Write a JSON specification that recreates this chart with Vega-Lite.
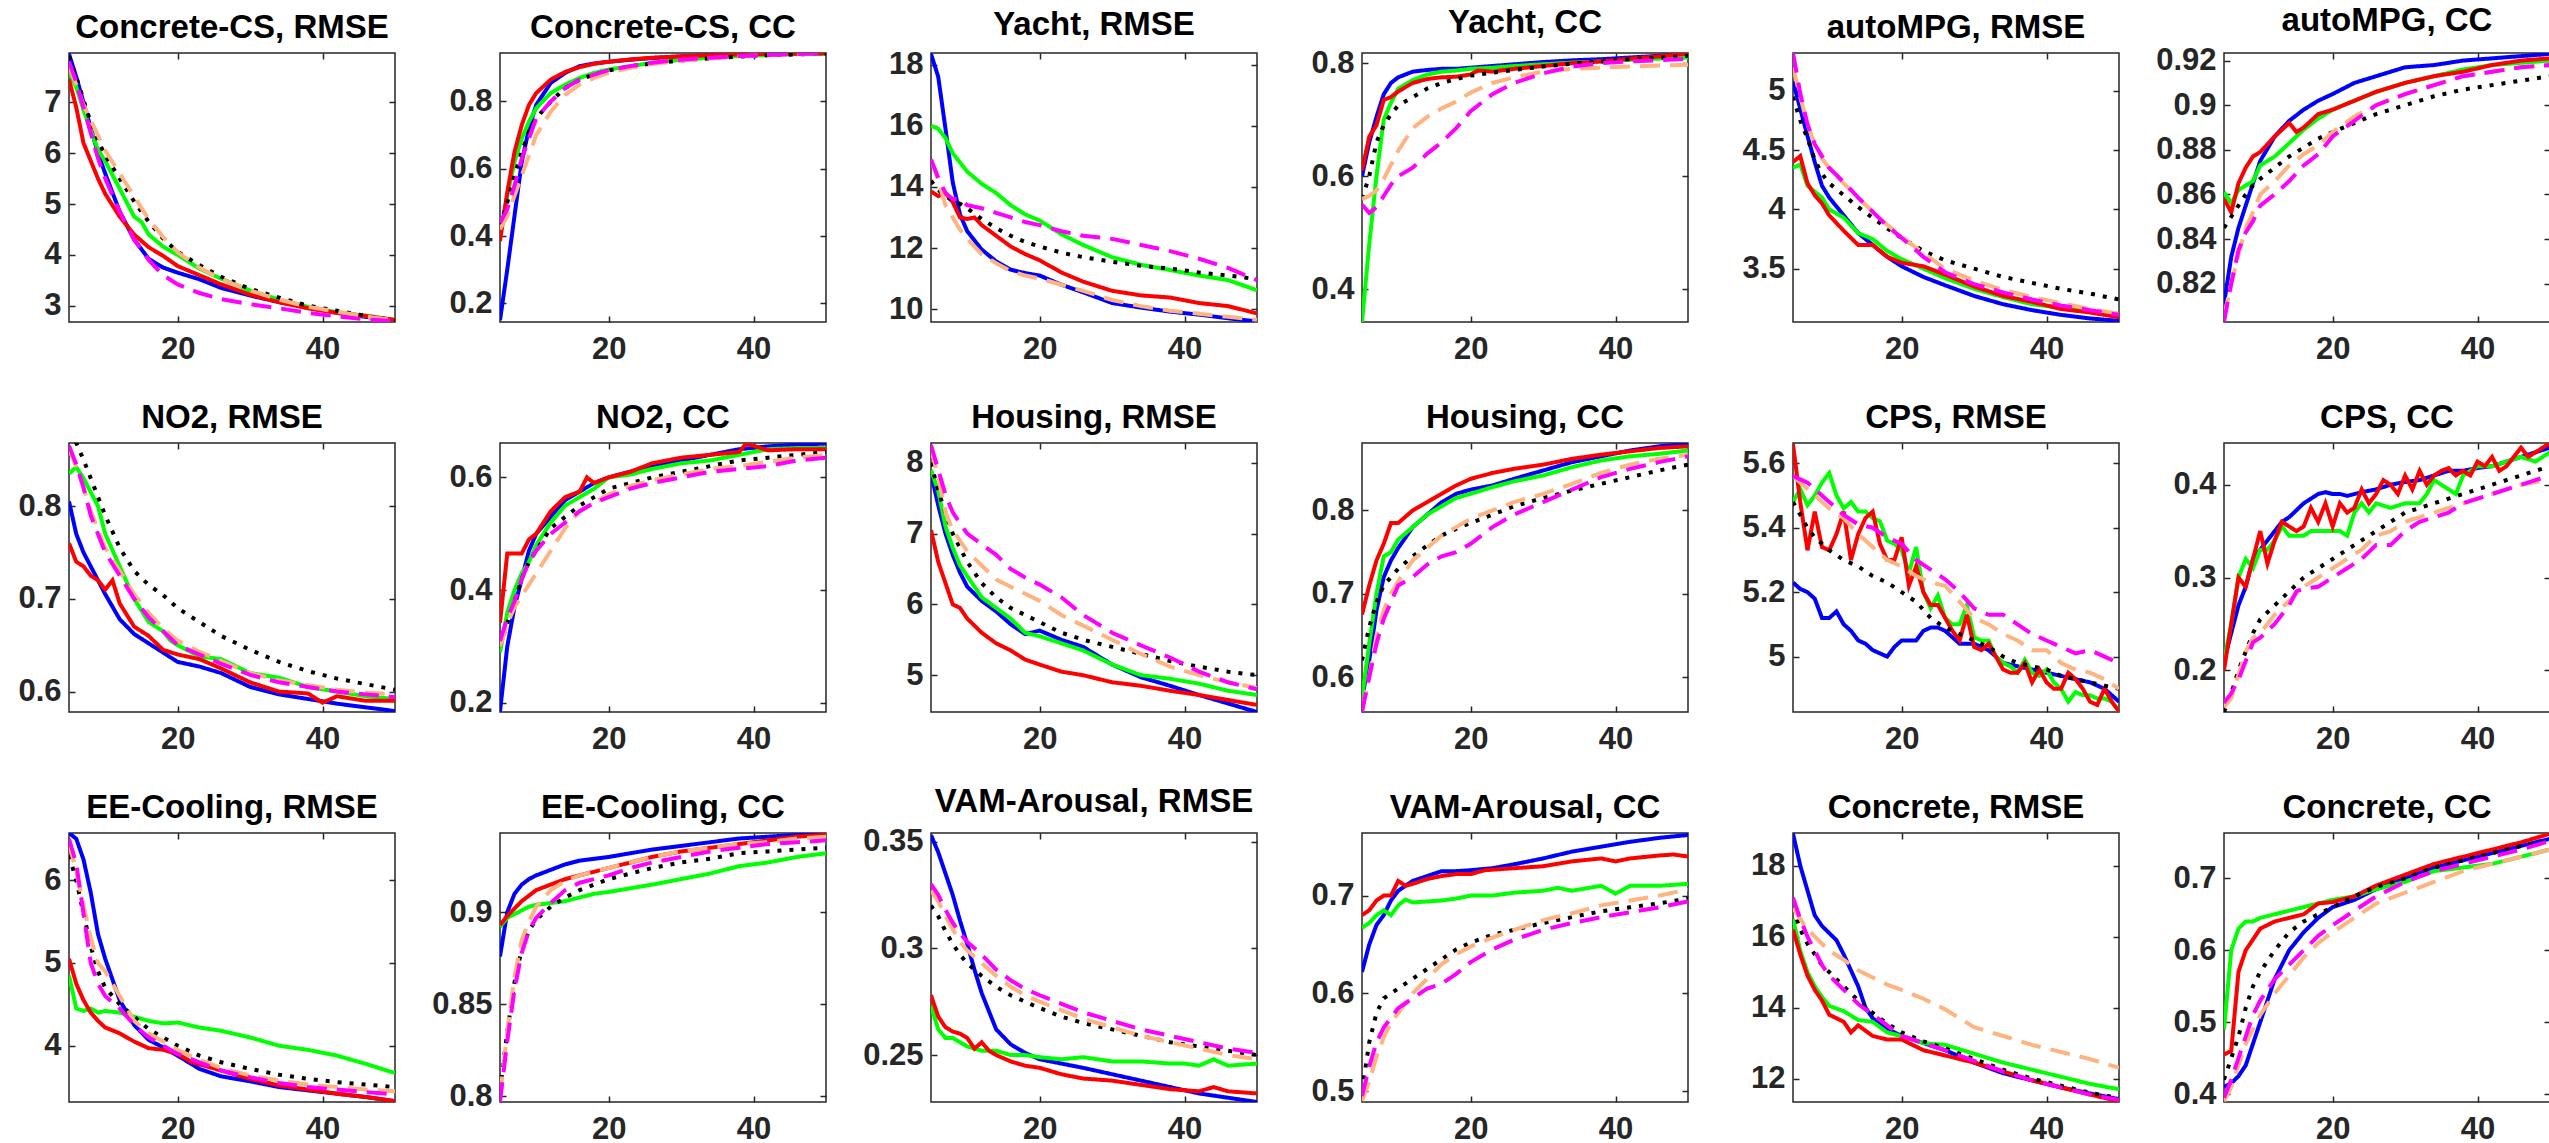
{
"$schema": "https://vega.github.io/schema/vega-lite/v6.json",
"background": "white",
"padding": {"left": 17, "top": 3, "right": 0, "bottom": 0},
"config": {
  "font": "Liberation Sans",
  "view": {"stroke": "#262626", "strokeWidth": 1.5, "continuousWidth": 326, "continuousHeight": 269},
  "axis": {"grid": false, "domain": false, "tickColor": "#262626", "tickSize": -6, "tickWidth": 1.5, "labelFont": "Liberation Sans", "labelFontSize": 31, "labelFontWeight": "bold", "labelColor": "#262626"},
  "axisLeft": {"labelPadding": 14},
  "axisBottom": {"labelPadding": 18},
  "axisRight": {"labels": false, "minExtent": 0, "maxExtent": 0},
  "axisTop": {"labels": false, "minExtent": 0, "maxExtent": 0},
  "title": {"font": "Liberation Sans", "fontSize": 33, "fontWeight": "bold", "color": "#000000", "offset": 7, "frame": "group", "anchor": "middle", "baseline": "alphabetic"},
  "line": {"strokeWidth": 4},
  "point": {"size": 0}
},
"datasets": {
"d1": [
{"s":"b","x":5,"y":7.95},{"s":"b","x":6,"y":7.5},{"s":"b","x":7,"y":7.0},{"s":"b","x":8,"y":6.5},{"s":"b","x":9,"y":6.0},{"s":"b","x":10,"y":5.6},{"s":"b","x":12,"y":4.85},{"s":"b","x":14,"y":4.3},{"s":"b","x":16,"y":3.92},{"s":"b","x":18,"y":3.75},{"s":"b","x":20,"y":3.65},{"s":"b","x":23,"y":3.52},{"s":"b","x":26,"y":3.35},{"s":"b","x":30,"y":3.2},{"s":"b","x":34,"y":3.07},{"s":"b","x":38,"y":2.96},{"s":"b","x":42,"y":2.86},{"s":"b","x":46,"y":2.78},{"s":"b","x":50,"y":2.71},
{"s":"g","x":5,"y":7.6},{"s":"g","x":6,"y":7.3},{"s":"g","x":7,"y":6.85},{"s":"g","x":8,"y":6.45},{"s":"g","x":9,"y":6.07},{"s":"g","x":10,"y":5.84},{"s":"g","x":12,"y":5.3},{"s":"g","x":14,"y":4.75},{"s":"g","x":15,"y":4.65},{"s":"g","x":16,"y":4.4},{"s":"g","x":18,"y":4.16},{"s":"g","x":20,"y":4.0},{"s":"g","x":23,"y":3.73},{"s":"g","x":26,"y":3.53},{"s":"g","x":30,"y":3.3},{"s":"g","x":34,"y":3.12},{"s":"g","x":38,"y":2.98},{"s":"g","x":42,"y":2.87},{"s":"g","x":46,"y":2.8},{"s":"g","x":50,"y":2.72},
{"s":"r","x":5,"y":7.45},{"s":"r","x":6,"y":6.9},{"s":"r","x":7,"y":6.2},{"s":"r","x":8,"y":5.85},{"s":"r","x":9,"y":5.5},{"s":"r","x":10,"y":5.2},{"s":"r","x":12,"y":4.75},{"s":"r","x":14,"y":4.4},{"s":"r","x":16,"y":4.15},{"s":"r","x":18,"y":3.98},{"s":"r","x":20,"y":3.78},{"s":"r","x":23,"y":3.6},{"s":"r","x":26,"y":3.42},{"s":"r","x":30,"y":3.22},{"s":"r","x":34,"y":3.07},{"s":"r","x":38,"y":2.95},{"s":"r","x":42,"y":2.86},{"s":"r","x":46,"y":2.8},{"s":"r","x":50,"y":2.72},
{"s":"k","x":5,"y":7.9},{"s":"k","x":6,"y":7.5},{"s":"k","x":7,"y":7.05},{"s":"k","x":8,"y":6.6},{"s":"k","x":9,"y":6.25},{"s":"k","x":10,"y":5.95},{"s":"k","x":12,"y":5.5},{"s":"k","x":14,"y":5.05},{"s":"k","x":16,"y":4.65},{"s":"k","x":18,"y":4.32},{"s":"k","x":20,"y":4.06},{"s":"k","x":23,"y":3.8},{"s":"k","x":26,"y":3.57},{"s":"k","x":30,"y":3.33},{"s":"k","x":34,"y":3.16},{"s":"k","x":38,"y":3.0},{"s":"k","x":42,"y":2.9},{"s":"k","x":46,"y":2.8},{"s":"k","x":50,"y":2.71},
{"s":"o","x":5,"y":7.7},{"s":"o","x":6,"y":7.35},{"s":"o","x":7,"y":6.95},{"s":"o","x":8,"y":6.65},{"s":"o","x":9,"y":6.35},{"s":"o","x":10,"y":6.05},{"s":"o","x":12,"y":5.6},{"s":"o","x":14,"y":5.15},{"s":"o","x":16,"y":4.7},{"s":"o","x":18,"y":4.35},{"s":"o","x":20,"y":4.05},{"s":"o","x":23,"y":3.75},{"s":"o","x":26,"y":3.52},{"s":"o","x":30,"y":3.3},{"s":"o","x":34,"y":3.12},{"s":"o","x":38,"y":2.98},{"s":"o","x":42,"y":2.88},{"s":"o","x":46,"y":2.79},{"s":"o","x":50,"y":2.71},
{"s":"m","x":5,"y":7.8},{"s":"m","x":6,"y":7.4},{"s":"m","x":7,"y":6.9},{"s":"m","x":8,"y":6.4},{"s":"m","x":9,"y":5.9},{"s":"m","x":10,"y":5.5},{"s":"m","x":12,"y":4.85},{"s":"m","x":14,"y":4.3},{"s":"m","x":16,"y":3.9},{"s":"m","x":18,"y":3.6},{"s":"m","x":20,"y":3.42},{"s":"m","x":23,"y":3.25},{"s":"m","x":26,"y":3.13},{"s":"m","x":30,"y":3.03},{"s":"m","x":34,"y":2.95},{"s":"m","x":38,"y":2.86},{"s":"m","x":42,"y":2.79},{"s":"m","x":46,"y":2.73},{"s":"m","x":50,"y":2.7}
],
"d2": [
{"s":"b","x":5,"y":0.15},{"s":"b","x":6,"y":0.3},{"s":"b","x":7,"y":0.46},{"s":"b","x":8,"y":0.62},{"s":"b","x":9,"y":0.72},{"s":"b","x":10,"y":0.79},{"s":"b","x":12,"y":0.855},{"s":"b","x":14,"y":0.885},{"s":"b","x":16,"y":0.905},{"s":"b","x":18,"y":0.913},{"s":"b","x":20,"y":0.918},{"s":"b","x":23,"y":0.924},{"s":"b","x":26,"y":0.929},{"s":"b","x":30,"y":0.934},{"s":"b","x":34,"y":0.937},{"s":"b","x":38,"y":0.94},{"s":"b","x":42,"y":0.941},{"s":"b","x":46,"y":0.942},{"s":"b","x":50,"y":0.943},
{"s":"g","x":5,"y":0.4},{"s":"g","x":6,"y":0.52},{"s":"g","x":7,"y":0.62},{"s":"g","x":8,"y":0.69},{"s":"g","x":9,"y":0.74},{"s":"g","x":10,"y":0.78},{"s":"g","x":12,"y":0.825},{"s":"g","x":14,"y":0.85},{"s":"g","x":16,"y":0.87},{"s":"g","x":18,"y":0.885},{"s":"g","x":20,"y":0.895},{"s":"g","x":23,"y":0.905},{"s":"g","x":26,"y":0.915},{"s":"g","x":30,"y":0.924},{"s":"g","x":34,"y":0.93},{"s":"g","x":38,"y":0.935},{"s":"g","x":42,"y":0.938},{"s":"g","x":46,"y":0.941},{"s":"g","x":50,"y":0.943},
{"s":"r","x":5,"y":0.385},{"s":"r","x":6,"y":0.53},{"s":"r","x":7,"y":0.65},{"s":"r","x":8,"y":0.73},{"s":"r","x":9,"y":0.79},{"s":"r","x":10,"y":0.825},{"s":"r","x":12,"y":0.865},{"s":"r","x":14,"y":0.888},{"s":"r","x":16,"y":0.902},{"s":"r","x":18,"y":0.912},{"s":"r","x":20,"y":0.918},{"s":"r","x":23,"y":0.925},{"s":"r","x":26,"y":0.93},{"s":"r","x":30,"y":0.934},{"s":"r","x":34,"y":0.937},{"s":"r","x":38,"y":0.94},{"s":"r","x":42,"y":0.941},{"s":"r","x":46,"y":0.942},{"s":"r","x":50,"y":0.943},
{"s":"k","x":5,"y":0.43},{"s":"k","x":6,"y":0.5},{"s":"k","x":7,"y":0.58},{"s":"k","x":8,"y":0.65},{"s":"k","x":9,"y":0.71},{"s":"k","x":10,"y":0.75},{"s":"k","x":12,"y":0.8},{"s":"k","x":14,"y":0.84},{"s":"k","x":16,"y":0.865},{"s":"k","x":18,"y":0.88},{"s":"k","x":20,"y":0.892},{"s":"k","x":23,"y":0.904},{"s":"k","x":26,"y":0.913},{"s":"k","x":30,"y":0.922},{"s":"k","x":34,"y":0.928},{"s":"k","x":38,"y":0.933},{"s":"k","x":42,"y":0.937},{"s":"k","x":46,"y":0.94},{"s":"k","x":50,"y":0.942},
{"s":"o","x":5,"y":0.42},{"s":"o","x":6,"y":0.46},{"s":"o","x":7,"y":0.52},{"s":"o","x":8,"y":0.58},{"s":"o","x":9,"y":0.64},{"s":"o","x":10,"y":0.7},{"s":"o","x":12,"y":0.77},{"s":"o","x":14,"y":0.82},{"s":"o","x":16,"y":0.85},{"s":"o","x":18,"y":0.87},{"s":"o","x":20,"y":0.885},{"s":"o","x":23,"y":0.9},{"s":"o","x":26,"y":0.911},{"s":"o","x":30,"y":0.921},{"s":"o","x":34,"y":0.928},{"s":"o","x":38,"y":0.934},{"s":"o","x":42,"y":0.938},{"s":"o","x":46,"y":0.941},{"s":"o","x":50,"y":0.943},
{"s":"m","x":5,"y":0.44},{"s":"m","x":6,"y":0.48},{"s":"m","x":7,"y":0.55},{"s":"m","x":8,"y":0.63},{"s":"m","x":9,"y":0.69},{"s":"m","x":10,"y":0.75},{"s":"m","x":12,"y":0.8},{"s":"m","x":14,"y":0.84},{"s":"m","x":16,"y":0.865},{"s":"m","x":18,"y":0.88},{"s":"m","x":20,"y":0.893},{"s":"m","x":23,"y":0.905},{"s":"m","x":26,"y":0.915},{"s":"m","x":30,"y":0.924},{"s":"m","x":34,"y":0.93},{"s":"m","x":38,"y":0.935},{"s":"m","x":42,"y":0.938},{"s":"m","x":46,"y":0.941},{"s":"m","x":50,"y":0.943}
],
"d3": [
{"s":"b","x":5,"y":18.35},{"s":"b","x":6,"y":17.6},{"s":"b","x":7,"y":15.9},{"s":"b","x":8,"y":14.15},{"s":"b","x":9,"y":13.1},{"s":"b","x":10,"y":12.55},{"s":"b","x":12,"y":11.95},{"s":"b","x":14,"y":11.56},{"s":"b","x":16,"y":11.29},{"s":"b","x":18,"y":11.18},{"s":"b","x":20,"y":11.1},{"s":"b","x":23,"y":10.8},{"s":"b","x":26,"y":10.55},{"s":"b","x":30,"y":10.2},{"s":"b","x":34,"y":10.05},{"s":"b","x":38,"y":9.92},{"s":"b","x":42,"y":9.82},{"s":"b","x":46,"y":9.7},{"s":"b","x":50,"y":9.6},
{"s":"g","x":5,"y":16.0},{"s":"g","x":6,"y":15.9},{"s":"g","x":7,"y":15.6},{"s":"g","x":8,"y":15.1},{"s":"g","x":9,"y":14.8},{"s":"g","x":10,"y":14.5},{"s":"g","x":12,"y":14.1},{"s":"g","x":14,"y":13.8},{"s":"g","x":16,"y":13.4},{"s":"g","x":18,"y":13.1},{"s":"g","x":20,"y":12.9},{"s":"g","x":23,"y":12.45},{"s":"g","x":26,"y":12.1},{"s":"g","x":30,"y":11.7},{"s":"g","x":34,"y":11.45},{"s":"g","x":38,"y":11.28},{"s":"g","x":42,"y":11.1},{"s":"g","x":46,"y":10.95},{"s":"g","x":50,"y":10.62},
{"s":"r","x":5,"y":13.85},{"s":"r","x":6,"y":13.7},{"s":"r","x":7,"y":13.8},{"s":"r","x":8,"y":13.5},{"s":"r","x":9,"y":13.0},{"s":"r","x":10,"y":12.95},{"s":"r","x":11,"y":13.0},{"s":"r","x":12,"y":12.75},{"s":"r","x":14,"y":12.4},{"s":"r","x":16,"y":12.05},{"s":"r","x":18,"y":11.8},{"s":"r","x":20,"y":11.6},{"s":"r","x":23,"y":11.2},{"s":"r","x":26,"y":10.9},{"s":"r","x":30,"y":10.6},{"s":"r","x":34,"y":10.45},{"s":"r","x":38,"y":10.38},{"s":"r","x":42,"y":10.2},{"s":"r","x":46,"y":10.1},{"s":"r","x":50,"y":9.86},
{"s":"k","x":5,"y":14.2},{"s":"k","x":6,"y":13.9},{"s":"k","x":7,"y":13.7},{"s":"k","x":8,"y":13.55},{"s":"k","x":9,"y":13.45},{"s":"k","x":10,"y":13.3},{"s":"k","x":12,"y":12.95},{"s":"k","x":14,"y":12.65},{"s":"k","x":16,"y":12.4},{"s":"k","x":18,"y":12.2},{"s":"k","x":20,"y":12.05},{"s":"k","x":23,"y":11.85},{"s":"k","x":26,"y":11.7},{"s":"k","x":30,"y":11.55},{"s":"k","x":34,"y":11.42},{"s":"k","x":38,"y":11.33},{"s":"k","x":42,"y":11.2},{"s":"k","x":46,"y":11.1},{"s":"k","x":50,"y":10.98},
{"s":"o","x":5,"y":14.9},{"s":"o","x":6,"y":14.2},{"s":"o","x":7,"y":13.4},{"s":"o","x":8,"y":13.0},{"s":"o","x":9,"y":12.6},{"s":"o","x":10,"y":12.3},{"s":"o","x":12,"y":11.8},{"s":"o","x":14,"y":11.5},{"s":"o","x":16,"y":11.25},{"s":"o","x":18,"y":11.1},{"s":"o","x":20,"y":11.0},{"s":"o","x":23,"y":10.8},{"s":"o","x":26,"y":10.6},{"s":"o","x":30,"y":10.3},{"s":"o","x":34,"y":10.1},{"s":"o","x":38,"y":9.95},{"s":"o","x":42,"y":9.85},{"s":"o","x":46,"y":9.75},{"s":"o","x":50,"y":9.65},
{"s":"m","x":5,"y":14.9},{"s":"m","x":6,"y":14.3},{"s":"m","x":7,"y":13.8},{"s":"m","x":8,"y":13.6},{"s":"m","x":9,"y":13.6},{"s":"m","x":10,"y":13.4},{"s":"m","x":12,"y":13.3},{"s":"m","x":14,"y":13.15},{"s":"m","x":16,"y":13.0},{"s":"m","x":18,"y":12.85},{"s":"m","x":20,"y":12.75},{"s":"m","x":23,"y":12.55},{"s":"m","x":26,"y":12.4},{"s":"m","x":30,"y":12.3},{"s":"m","x":34,"y":12.1},{"s":"m","x":38,"y":11.9},{"s":"m","x":42,"y":11.65},{"s":"m","x":46,"y":11.35},{"s":"m","x":50,"y":10.95}
],
"d4": [
{"s":"b","x":5,"y":0.6},{"s":"b","x":6,"y":0.66},{"s":"b","x":7,"y":0.705},{"s":"b","x":8,"y":0.745},{"s":"b","x":9,"y":0.765},{"s":"b","x":10,"y":0.775},{"s":"b","x":12,"y":0.785},{"s":"b","x":14,"y":0.788},{"s":"b","x":16,"y":0.79},{"s":"b","x":18,"y":0.79},{"s":"b","x":20,"y":0.792},{"s":"b","x":23,"y":0.795},{"s":"b","x":26,"y":0.798},{"s":"b","x":30,"y":0.802},{"s":"b","x":34,"y":0.805},{"s":"b","x":38,"y":0.807},{"s":"b","x":42,"y":0.81},{"s":"b","x":46,"y":0.813},{"s":"b","x":50,"y":0.816},
{"s":"g","x":5,"y":0.342},{"s":"g","x":6,"y":0.48},{"s":"g","x":7,"y":0.6},{"s":"g","x":8,"y":0.7},{"s":"g","x":9,"y":0.73},{"s":"g","x":10,"y":0.755},{"s":"g","x":12,"y":0.77},{"s":"g","x":14,"y":0.78},{"s":"g","x":16,"y":0.785},{"s":"g","x":18,"y":0.787},{"s":"g","x":20,"y":0.79},{"s":"g","x":23,"y":0.792},{"s":"g","x":26,"y":0.795},{"s":"g","x":30,"y":0.798},{"s":"g","x":34,"y":0.801},{"s":"g","x":38,"y":0.803},{"s":"g","x":42,"y":0.806},{"s":"g","x":46,"y":0.808},{"s":"g","x":50,"y":0.81},
{"s":"r","x":5,"y":0.61},{"s":"r","x":6,"y":0.67},{"s":"r","x":7,"y":0.69},{"s":"r","x":8,"y":0.735},{"s":"r","x":9,"y":0.74},{"s":"r","x":10,"y":0.75},{"s":"r","x":12,"y":0.765},{"s":"r","x":14,"y":0.772},{"s":"r","x":16,"y":0.775},{"s":"r","x":18,"y":0.776},{"s":"r","x":20,"y":0.78},{"s":"r","x":21,"y":0.787},{"s":"r","x":23,"y":0.785},{"s":"r","x":26,"y":0.79},{"s":"r","x":30,"y":0.795},{"s":"r","x":34,"y":0.8},{"s":"r","x":38,"y":0.803},{"s":"r","x":42,"y":0.808},{"s":"r","x":46,"y":0.812},{"s":"r","x":50,"y":0.817},
{"s":"k","x":5,"y":0.56},{"s":"k","x":6,"y":0.6},{"s":"k","x":7,"y":0.66},{"s":"k","x":8,"y":0.69},{"s":"k","x":9,"y":0.71},{"s":"k","x":10,"y":0.725},{"s":"k","x":12,"y":0.74},{"s":"k","x":14,"y":0.755},{"s":"k","x":16,"y":0.765},{"s":"k","x":18,"y":0.772},{"s":"k","x":20,"y":0.778},{"s":"k","x":23,"y":0.783},{"s":"k","x":26,"y":0.788},{"s":"k","x":30,"y":0.794},{"s":"k","x":34,"y":0.799},{"s":"k","x":38,"y":0.803},{"s":"k","x":42,"y":0.807},{"s":"k","x":46,"y":0.81},{"s":"k","x":50,"y":0.813},
{"s":"o","x":5,"y":0.56},{"s":"o","x":6,"y":0.565},{"s":"o","x":7,"y":0.575},{"s":"o","x":8,"y":0.595},{"s":"o","x":9,"y":0.62},{"s":"o","x":10,"y":0.645},{"s":"o","x":12,"y":0.685},{"s":"o","x":14,"y":0.705},{"s":"o","x":16,"y":0.72},{"s":"o","x":18,"y":0.732},{"s":"o","x":20,"y":0.748},{"s":"o","x":23,"y":0.765},{"s":"o","x":26,"y":0.775},{"s":"o","x":30,"y":0.785},{"s":"o","x":34,"y":0.79},{"s":"o","x":38,"y":0.792},{"s":"o","x":42,"y":0.794},{"s":"o","x":46,"y":0.796},{"s":"o","x":50,"y":0.797},
{"s":"m","x":5,"y":0.55},{"s":"m","x":6,"y":0.535},{"s":"m","x":7,"y":0.545},{"s":"m","x":8,"y":0.565},{"s":"m","x":9,"y":0.585},{"s":"m","x":10,"y":0.6},{"s":"m","x":12,"y":0.615},{"s":"m","x":14,"y":0.64},{"s":"m","x":16,"y":0.66},{"s":"m","x":18,"y":0.685},{"s":"m","x":20,"y":0.715},{"s":"m","x":23,"y":0.745},{"s":"m","x":26,"y":0.765},{"s":"m","x":30,"y":0.782},{"s":"m","x":34,"y":0.794},{"s":"m","x":38,"y":0.8},{"s":"m","x":42,"y":0.803},{"s":"m","x":46,"y":0.805},{"s":"m","x":50,"y":0.808}
],
"d5": [
{"s":"b","x":5,"y":5.08},{"s":"b","x":6,"y":4.85},{"s":"b","x":7,"y":4.62},{"s":"b","x":8,"y":4.4},{"s":"b","x":9,"y":4.2},{"s":"b","x":10,"y":4.1},{"s":"b","x":12,"y":3.95},{"s":"b","x":14,"y":3.8},{"s":"b","x":16,"y":3.7},{"s":"b","x":18,"y":3.6},{"s":"b","x":20,"y":3.52},{"s":"b","x":23,"y":3.43},{"s":"b","x":26,"y":3.36},{"s":"b","x":30,"y":3.27},{"s":"b","x":34,"y":3.2},{"s":"b","x":38,"y":3.15},{"s":"b","x":42,"y":3.11},{"s":"b","x":46,"y":3.08},{"s":"b","x":50,"y":3.06},
{"s":"g","x":5,"y":4.35},{"s":"g","x":6,"y":4.38},{"s":"g","x":7,"y":4.2},{"s":"g","x":8,"y":4.15},{"s":"g","x":9,"y":4.1},{"s":"g","x":10,"y":4.0},{"s":"g","x":12,"y":3.93},{"s":"g","x":14,"y":3.8},{"s":"g","x":16,"y":3.75},{"s":"g","x":18,"y":3.65},{"s":"g","x":20,"y":3.58},{"s":"g","x":23,"y":3.5},{"s":"g","x":26,"y":3.42},{"s":"g","x":30,"y":3.33},{"s":"g","x":34,"y":3.26},{"s":"g","x":38,"y":3.2},{"s":"g","x":42,"y":3.17},{"s":"g","x":46,"y":3.14},{"s":"g","x":50,"y":3.12},
{"s":"r","x":5,"y":4.4},{"s":"r","x":6,"y":4.45},{"s":"r","x":7,"y":4.22},{"s":"r","x":8,"y":4.12},{"s":"r","x":9,"y":4.05},{"s":"r","x":10,"y":3.95},{"s":"r","x":12,"y":3.82},{"s":"r","x":14,"y":3.7},{"s":"r","x":16,"y":3.7},{"s":"r","x":18,"y":3.6},{"s":"r","x":20,"y":3.55},{"s":"r","x":23,"y":3.52},{"s":"r","x":26,"y":3.45},{"s":"r","x":30,"y":3.35},{"s":"r","x":34,"y":3.27},{"s":"r","x":38,"y":3.22},{"s":"r","x":42,"y":3.16},{"s":"r","x":46,"y":3.13},{"s":"r","x":50,"y":3.09},
{"s":"k","x":5,"y":4.95},{"s":"k","x":6,"y":4.75},{"s":"k","x":7,"y":4.6},{"s":"k","x":8,"y":4.42},{"s":"k","x":9,"y":4.3},{"s":"k","x":10,"y":4.22},{"s":"k","x":12,"y":4.12},{"s":"k","x":14,"y":4.02},{"s":"k","x":16,"y":3.93},{"s":"k","x":18,"y":3.84},{"s":"k","x":20,"y":3.76},{"s":"k","x":23,"y":3.65},{"s":"k","x":26,"y":3.57},{"s":"k","x":30,"y":3.5},{"s":"k","x":34,"y":3.43},{"s":"k","x":38,"y":3.38},{"s":"k","x":42,"y":3.33},{"s":"k","x":46,"y":3.29},{"s":"k","x":50,"y":3.24},
{"s":"o","x":5,"y":5.2},{"s":"o","x":6,"y":4.95},{"s":"o","x":7,"y":4.72},{"s":"o","x":8,"y":4.55},{"s":"o","x":9,"y":4.43},{"s":"o","x":10,"y":4.35},{"s":"o","x":12,"y":4.22},{"s":"o","x":14,"y":4.1},{"s":"o","x":16,"y":3.98},{"s":"o","x":18,"y":3.87},{"s":"o","x":20,"y":3.77},{"s":"o","x":23,"y":3.63},{"s":"o","x":26,"y":3.5},{"s":"o","x":30,"y":3.4},{"s":"o","x":34,"y":3.32},{"s":"o","x":38,"y":3.26},{"s":"o","x":42,"y":3.21},{"s":"o","x":46,"y":3.16},{"s":"o","x":50,"y":3.12},
{"s":"m","x":5,"y":5.32},{"s":"m","x":6,"y":4.98},{"s":"m","x":7,"y":4.72},{"s":"m","x":8,"y":4.55},{"s":"m","x":9,"y":4.45},{"s":"m","x":10,"y":4.35},{"s":"m","x":12,"y":4.23},{"s":"m","x":14,"y":4.1},{"s":"m","x":16,"y":3.98},{"s":"m","x":18,"y":3.86},{"s":"m","x":20,"y":3.76},{"s":"m","x":23,"y":3.6},{"s":"m","x":26,"y":3.47},{"s":"m","x":30,"y":3.37},{"s":"m","x":34,"y":3.3},{"s":"m","x":38,"y":3.24},{"s":"m","x":42,"y":3.19},{"s":"m","x":46,"y":3.15},{"s":"m","x":50,"y":3.11}
],
"d6": [
{"s":"b","x":5,"y":0.811},{"s":"b","x":6,"y":0.832},{"s":"b","x":7,"y":0.845},{"s":"b","x":8,"y":0.855},{"s":"b","x":9,"y":0.865},{"s":"b","x":10,"y":0.875},{"s":"b","x":12,"y":0.886},{"s":"b","x":14,"y":0.893},{"s":"b","x":16,"y":0.898},{"s":"b","x":18,"y":0.902},{"s":"b","x":20,"y":0.905},{"s":"b","x":23,"y":0.91},{"s":"b","x":26,"y":0.913},{"s":"b","x":30,"y":0.917},{"s":"b","x":34,"y":0.918},{"s":"b","x":38,"y":0.92},{"s":"b","x":42,"y":0.921},{"s":"b","x":46,"y":0.922},{"s":"b","x":50,"y":0.923},
{"s":"g","x":5,"y":0.861},{"s":"g","x":6,"y":0.856},{"s":"g","x":7,"y":0.862},{"s":"g","x":8,"y":0.864},{"s":"g","x":9,"y":0.866},{"s":"g","x":10,"y":0.873},{"s":"g","x":12,"y":0.877},{"s":"g","x":14,"y":0.883},{"s":"g","x":16,"y":0.889},{"s":"g","x":18,"y":0.894},{"s":"g","x":20,"y":0.898},{"s":"g","x":23,"y":0.902},{"s":"g","x":26,"y":0.906},{"s":"g","x":30,"y":0.91},{"s":"g","x":34,"y":0.913},{"s":"g","x":38,"y":0.916},{"s":"g","x":42,"y":0.918},{"s":"g","x":46,"y":0.919},{"s":"g","x":50,"y":0.92},
{"s":"r","x":5,"y":0.858},{"s":"r","x":6,"y":0.852},{"s":"r","x":7,"y":0.865},{"s":"r","x":8,"y":0.872},{"s":"r","x":9,"y":0.877},{"s":"r","x":10,"y":0.879},{"s":"r","x":12,"y":0.886},{"s":"r","x":14,"y":0.892},{"s":"r","x":15,"y":0.888},{"s":"r","x":16,"y":0.89},{"s":"r","x":18,"y":0.896},{"s":"r","x":20,"y":0.898},{"s":"r","x":23,"y":0.902},{"s":"r","x":26,"y":0.906},{"s":"r","x":30,"y":0.91},{"s":"r","x":34,"y":0.913},{"s":"r","x":38,"y":0.915},{"s":"r","x":42,"y":0.918},{"s":"r","x":46,"y":0.92},{"s":"r","x":50,"y":0.921},
{"s":"k","x":5,"y":0.845},{"s":"k","x":6,"y":0.85},{"s":"k","x":7,"y":0.855},{"s":"k","x":8,"y":0.86},{"s":"k","x":9,"y":0.864},{"s":"k","x":10,"y":0.867},{"s":"k","x":12,"y":0.872},{"s":"k","x":14,"y":0.877},{"s":"k","x":16,"y":0.881},{"s":"k","x":18,"y":0.885},{"s":"k","x":20,"y":0.888},{"s":"k","x":23,"y":0.892},{"s":"k","x":26,"y":0.896},{"s":"k","x":30,"y":0.9},{"s":"k","x":34,"y":0.904},{"s":"k","x":38,"y":0.907},{"s":"k","x":42,"y":0.909},{"s":"k","x":46,"y":0.911},{"s":"k","x":50,"y":0.913},
{"s":"o","x":5,"y":0.805},{"s":"o","x":6,"y":0.82},{"s":"o","x":7,"y":0.833},{"s":"o","x":8,"y":0.845},{"s":"o","x":9,"y":0.852},{"s":"o","x":10,"y":0.86},{"s":"o","x":12,"y":0.866},{"s":"o","x":14,"y":0.873},{"s":"o","x":16,"y":0.878},{"s":"o","x":18,"y":0.882},{"s":"o","x":20,"y":0.888},{"s":"o","x":23,"y":0.895},{"s":"o","x":26,"y":0.9},{"s":"o","x":30,"y":0.905},{"s":"o","x":34,"y":0.909},{"s":"o","x":38,"y":0.913},{"s":"o","x":42,"y":0.915},{"s":"o","x":46,"y":0.917},{"s":"o","x":50,"y":0.918},
{"s":"m","x":5,"y":0.803},{"s":"m","x":6,"y":0.82},{"s":"m","x":7,"y":0.835},{"s":"m","x":8,"y":0.843},{"s":"m","x":9,"y":0.848},{"s":"m","x":10,"y":0.855},{"s":"m","x":12,"y":0.86},{"s":"m","x":14,"y":0.866},{"s":"m","x":16,"y":0.873},{"s":"m","x":18,"y":0.878},{"s":"m","x":20,"y":0.886},{"s":"m","x":23,"y":0.893},{"s":"m","x":26,"y":0.9},{"s":"m","x":30,"y":0.905},{"s":"m","x":34,"y":0.909},{"s":"m","x":38,"y":0.913},{"s":"m","x":42,"y":0.915},{"s":"m","x":46,"y":0.917},{"s":"m","x":50,"y":0.918}
],
"d7": [
{"s":"b","x":5,"y":0.805},{"s":"b","x":6,"y":0.77},{"s":"b","x":7,"y":0.75},{"s":"b","x":8,"y":0.735},{"s":"b","x":9,"y":0.72},{"s":"b","x":10,"y":0.705},{"s":"b","x":12,"y":0.678},{"s":"b","x":14,"y":0.662},{"s":"b","x":16,"y":0.652},{"s":"b","x":18,"y":0.642},{"s":"b","x":20,"y":0.632},{"s":"b","x":23,"y":0.627},{"s":"b","x":26,"y":0.62},{"s":"b","x":30,"y":0.605},{"s":"b","x":34,"y":0.597},{"s":"b","x":38,"y":0.592},{"s":"b","x":42,"y":0.587},{"s":"b","x":46,"y":0.583},{"s":"b","x":50,"y":0.579},
{"s":"g","x":5,"y":0.835},{"s":"g","x":6,"y":0.842},{"s":"g","x":7,"y":0.83},{"s":"g","x":8,"y":0.815},{"s":"g","x":9,"y":0.8},{"s":"g","x":10,"y":0.77},{"s":"g","x":12,"y":0.735},{"s":"g","x":14,"y":0.7},{"s":"g","x":16,"y":0.675},{"s":"g","x":18,"y":0.665},{"s":"g","x":19,"y":0.655},{"s":"g","x":20,"y":0.65},{"s":"g","x":23,"y":0.638},{"s":"g","x":26,"y":0.635},{"s":"g","x":30,"y":0.62},{"s":"g","x":34,"y":0.615},{"s":"g","x":38,"y":0.605},{"s":"g","x":42,"y":0.6},{"s":"g","x":46,"y":0.595},{"s":"g","x":50,"y":0.592},
{"s":"r","x":5,"y":0.76},{"s":"r","x":6,"y":0.74},{"s":"r","x":7,"y":0.735},{"s":"r","x":8,"y":0.725},{"s":"r","x":9,"y":0.72},{"s":"r","x":10,"y":0.71},{"s":"r","x":11,"y":0.72},{"s":"r","x":12,"y":0.695},{"s":"r","x":14,"y":0.67},{"s":"r","x":16,"y":0.66},{"s":"r","x":18,"y":0.645},{"s":"r","x":20,"y":0.64},{"s":"r","x":23,"y":0.635},{"s":"r","x":26,"y":0.625},{"s":"r","x":30,"y":0.61},{"s":"r","x":34,"y":0.6},{"s":"r","x":38,"y":0.598},{"s":"r","x":40,"y":0.588},{"s":"r","x":42,"y":0.595},{"s":"r","x":46,"y":0.59},{"s":"r","x":50,"y":0.59},
{"s":"k","x":5,"y":0.88},{"s":"k","x":6,"y":0.868},{"s":"k","x":7,"y":0.85},{"s":"k","x":8,"y":0.83},{"s":"k","x":9,"y":0.81},{"s":"k","x":10,"y":0.79},{"s":"k","x":12,"y":0.755},{"s":"k","x":14,"y":0.73},{"s":"k","x":16,"y":0.715},{"s":"k","x":18,"y":0.704},{"s":"k","x":20,"y":0.69},{"s":"k","x":23,"y":0.675},{"s":"k","x":26,"y":0.66},{"s":"k","x":30,"y":0.645},{"s":"k","x":34,"y":0.632},{"s":"k","x":38,"y":0.622},{"s":"k","x":42,"y":0.614},{"s":"k","x":46,"y":0.608},{"s":"k","x":50,"y":0.602},
{"s":"o","x":5,"y":0.862},{"s":"o","x":6,"y":0.842},{"s":"o","x":7,"y":0.82},{"s":"o","x":8,"y":0.795},{"s":"o","x":9,"y":0.775},{"s":"o","x":10,"y":0.755},{"s":"o","x":12,"y":0.73},{"s":"o","x":14,"y":0.705},{"s":"o","x":16,"y":0.685},{"s":"o","x":18,"y":0.668},{"s":"o","x":20,"y":0.655},{"s":"o","x":23,"y":0.643},{"s":"o","x":26,"y":0.633},{"s":"o","x":30,"y":0.62},{"s":"o","x":34,"y":0.612},{"s":"o","x":38,"y":0.607},{"s":"o","x":42,"y":0.602},{"s":"o","x":46,"y":0.599},{"s":"o","x":50,"y":0.597},
{"s":"m","x":5,"y":0.865},{"s":"m","x":6,"y":0.845},{"s":"m","x":7,"y":0.82},{"s":"m","x":8,"y":0.79},{"s":"m","x":9,"y":0.77},{"s":"m","x":10,"y":0.75},{"s":"m","x":12,"y":0.725},{"s":"m","x":14,"y":0.7},{"s":"m","x":16,"y":0.68},{"s":"m","x":18,"y":0.665},{"s":"m","x":20,"y":0.65},{"s":"m","x":23,"y":0.64},{"s":"m","x":26,"y":0.63},{"s":"m","x":30,"y":0.618},{"s":"m","x":34,"y":0.61},{"s":"m","x":38,"y":0.605},{"s":"m","x":42,"y":0.6},{"s":"m","x":46,"y":0.597},{"s":"m","x":50,"y":0.594}
],
"d8": [
{"s":"b","x":5,"y":0.185},{"s":"b","x":6,"y":0.3},{"s":"b","x":7,"y":0.37},{"s":"b","x":8,"y":0.42},{"s":"b","x":9,"y":0.47},{"s":"b","x":10,"y":0.5},{"s":"b","x":12,"y":0.53},{"s":"b","x":14,"y":0.56},{"s":"b","x":16,"y":0.575},{"s":"b","x":18,"y":0.59},{"s":"b","x":20,"y":0.6},{"s":"b","x":23,"y":0.61},{"s":"b","x":26,"y":0.62},{"s":"b","x":30,"y":0.63},{"s":"b","x":34,"y":0.64},{"s":"b","x":38,"y":0.65},{"s":"b","x":42,"y":0.655},{"s":"b","x":46,"y":0.658},{"s":"b","x":50,"y":0.66},
{"s":"g","x":5,"y":0.29},{"s":"g","x":6,"y":0.36},{"s":"g","x":7,"y":0.4},{"s":"g","x":8,"y":0.43},{"s":"g","x":9,"y":0.45},{"s":"g","x":10,"y":0.48},{"s":"g","x":12,"y":0.52},{"s":"g","x":14,"y":0.55},{"s":"g","x":16,"y":0.565},{"s":"g","x":18,"y":0.58},{"s":"g","x":20,"y":0.6},{"s":"g","x":23,"y":0.605},{"s":"g","x":26,"y":0.615},{"s":"g","x":30,"y":0.625},{"s":"g","x":34,"y":0.63},{"s":"g","x":38,"y":0.64},{"s":"g","x":42,"y":0.65},{"s":"g","x":46,"y":0.652},{"s":"g","x":50,"y":0.652},
{"s":"r","x":5,"y":0.342},{"s":"r","x":6,"y":0.465},{"s":"r","x":7,"y":0.465},{"s":"r","x":8,"y":0.465},{"s":"r","x":9,"y":0.49},{"s":"r","x":10,"y":0.5},{"s":"r","x":11,"y":0.52},{"s":"r","x":12,"y":0.54},{"s":"r","x":14,"y":0.565},{"s":"r","x":16,"y":0.575},{"s":"r","x":17,"y":0.6},{"s":"r","x":18,"y":0.59},{"s":"r","x":20,"y":0.6},{"s":"r","x":23,"y":0.61},{"s":"r","x":26,"y":0.625},{"s":"r","x":30,"y":0.635},{"s":"r","x":34,"y":0.64},{"s":"r","x":38,"y":0.645},{"s":"r","x":39,"y":0.66},{"s":"r","x":42,"y":0.648},{"s":"r","x":46,"y":0.65},{"s":"r","x":50,"y":0.65},
{"s":"k","x":5,"y":0.3},{"s":"k","x":6,"y":0.34},{"s":"k","x":7,"y":0.38},{"s":"k","x":8,"y":0.42},{"s":"k","x":9,"y":0.45},{"s":"k","x":10,"y":0.47},{"s":"k","x":12,"y":0.51},{"s":"k","x":14,"y":0.53},{"s":"k","x":16,"y":0.55},{"s":"k","x":18,"y":0.565},{"s":"k","x":20,"y":0.58},{"s":"k","x":23,"y":0.59},{"s":"k","x":26,"y":0.6},{"s":"k","x":30,"y":0.61},{"s":"k","x":34,"y":0.62},{"s":"k","x":38,"y":0.63},{"s":"k","x":42,"y":0.635},{"s":"k","x":46,"y":0.64},{"s":"k","x":50,"y":0.645},
{"s":"o","x":5,"y":0.3},{"s":"o","x":6,"y":0.34},{"s":"o","x":7,"y":0.37},{"s":"o","x":8,"y":0.39},{"s":"o","x":9,"y":0.41},{"s":"o","x":10,"y":0.43},{"s":"o","x":12,"y":0.47},{"s":"o","x":14,"y":0.51},{"s":"o","x":16,"y":0.54},{"s":"o","x":18,"y":0.555},{"s":"o","x":20,"y":0.57},{"s":"o","x":23,"y":0.585},{"s":"o","x":26,"y":0.595},{"s":"o","x":30,"y":0.605},{"s":"o","x":34,"y":0.615},{"s":"o","x":38,"y":0.62},{"s":"o","x":42,"y":0.628},{"s":"o","x":46,"y":0.635},{"s":"o","x":50,"y":0.64},
{"s":"m","x":5,"y":0.31},{"s":"m","x":6,"y":0.35},{"s":"m","x":7,"y":0.38},{"s":"m","x":8,"y":0.42},{"s":"m","x":9,"y":0.45},{"s":"m","x":10,"y":0.47},{"s":"m","x":12,"y":0.5},{"s":"m","x":14,"y":0.52},{"s":"m","x":16,"y":0.54},{"s":"m","x":18,"y":0.555},{"s":"m","x":20,"y":0.565},{"s":"m","x":23,"y":0.58},{"s":"m","x":26,"y":0.59},{"s":"m","x":30,"y":0.6},{"s":"m","x":34,"y":0.61},{"s":"m","x":38,"y":0.615},{"s":"m","x":42,"y":0.62},{"s":"m","x":46,"y":0.63},{"s":"m","x":50,"y":0.635}
],
"d9": [
{"s":"b","x":5,"y":7.85},{"s":"b","x":6,"y":7.4},{"s":"b","x":7,"y":7.0},{"s":"b","x":8,"y":6.7},{"s":"b","x":9,"y":6.45},{"s":"b","x":10,"y":6.25},{"s":"b","x":12,"y":6.05},{"s":"b","x":14,"y":5.9},{"s":"b","x":16,"y":5.72},{"s":"b","x":18,"y":5.58},{"s":"b","x":20,"y":5.63},{"s":"b","x":23,"y":5.5},{"s":"b","x":26,"y":5.4},{"s":"b","x":30,"y":5.15},{"s":"b","x":34,"y":4.97},{"s":"b","x":38,"y":4.85},{"s":"b","x":42,"y":4.72},{"s":"b","x":46,"y":4.6},{"s":"b","x":50,"y":4.48},
{"s":"g","x":5,"y":7.9},{"s":"g","x":6,"y":7.6},{"s":"g","x":7,"y":7.1},{"s":"g","x":8,"y":6.8},{"s":"g","x":9,"y":6.55},{"s":"g","x":10,"y":6.4},{"s":"g","x":12,"y":6.1},{"s":"g","x":14,"y":5.95},{"s":"g","x":16,"y":5.8},{"s":"g","x":18,"y":5.6},{"s":"g","x":20,"y":5.55},{"s":"g","x":23,"y":5.45},{"s":"g","x":26,"y":5.35},{"s":"g","x":30,"y":5.15},{"s":"g","x":34,"y":5.0},{"s":"g","x":38,"y":4.95},{"s":"g","x":42,"y":4.88},{"s":"g","x":46,"y":4.78},{"s":"g","x":50,"y":4.72},
{"s":"r","x":5,"y":7.05},{"s":"r","x":6,"y":6.6},{"s":"r","x":7,"y":6.3},{"s":"r","x":8,"y":6.0},{"s":"r","x":9,"y":5.95},{"s":"r","x":10,"y":5.8},{"s":"r","x":12,"y":5.6},{"s":"r","x":14,"y":5.45},{"s":"r","x":16,"y":5.35},{"s":"r","x":18,"y":5.22},{"s":"r","x":20,"y":5.15},{"s":"r","x":23,"y":5.05},{"s":"r","x":26,"y":5.0},{"s":"r","x":30,"y":4.9},{"s":"r","x":34,"y":4.85},{"s":"r","x":38,"y":4.78},{"s":"r","x":42,"y":4.72},{"s":"r","x":46,"y":4.65},{"s":"r","x":50,"y":4.58},
{"s":"k","x":5,"y":8.0},{"s":"k","x":6,"y":7.6},{"s":"k","x":7,"y":7.3},{"s":"k","x":8,"y":7.0},{"s":"k","x":9,"y":6.8},{"s":"k","x":10,"y":6.6},{"s":"k","x":12,"y":6.3},{"s":"k","x":14,"y":6.1},{"s":"k","x":16,"y":5.95},{"s":"k","x":18,"y":5.85},{"s":"k","x":20,"y":5.75},{"s":"k","x":23,"y":5.6},{"s":"k","x":26,"y":5.5},{"s":"k","x":30,"y":5.4},{"s":"k","x":34,"y":5.3},{"s":"k","x":38,"y":5.2},{"s":"k","x":42,"y":5.12},{"s":"k","x":46,"y":5.05},{"s":"k","x":50,"y":5.0},
{"s":"o","x":5,"y":8.2},{"s":"o","x":6,"y":7.8},{"s":"o","x":7,"y":7.3},{"s":"o","x":8,"y":7.05},{"s":"o","x":9,"y":6.9},{"s":"o","x":10,"y":6.75},{"s":"o","x":12,"y":6.55},{"s":"o","x":14,"y":6.35},{"s":"o","x":16,"y":6.25},{"s":"o","x":18,"y":6.15},{"s":"o","x":20,"y":6.05},{"s":"o","x":23,"y":5.85},{"s":"o","x":26,"y":5.7},{"s":"o","x":30,"y":5.5},{"s":"o","x":34,"y":5.3},{"s":"o","x":38,"y":5.12},{"s":"o","x":42,"y":5.0},{"s":"o","x":46,"y":4.9},{"s":"o","x":50,"y":4.82},
{"s":"m","x":5,"y":8.25},{"s":"m","x":6,"y":7.9},{"s":"m","x":7,"y":7.55},{"s":"m","x":8,"y":7.3},{"s":"m","x":9,"y":7.15},{"s":"m","x":10,"y":7.0},{"s":"m","x":12,"y":6.85},{"s":"m","x":14,"y":6.7},{"s":"m","x":16,"y":6.5},{"s":"m","x":18,"y":6.38},{"s":"m","x":20,"y":6.28},{"s":"m","x":23,"y":6.1},{"s":"m","x":26,"y":5.85},{"s":"m","x":30,"y":5.6},{"s":"m","x":34,"y":5.42},{"s":"m","x":38,"y":5.25},{"s":"m","x":42,"y":5.05},{"s":"m","x":46,"y":4.9},{"s":"m","x":50,"y":4.8}
],
"d10": [
{"s":"b","x":5,"y":0.575},{"s":"b","x":6,"y":0.62},{"s":"b","x":7,"y":0.68},{"s":"b","x":8,"y":0.72},{"s":"b","x":9,"y":0.74},{"s":"b","x":10,"y":0.755},{"s":"b","x":12,"y":0.78},{"s":"b","x":14,"y":0.795},{"s":"b","x":16,"y":0.81},{"s":"b","x":18,"y":0.82},{"s":"b","x":20,"y":0.825},{"s":"b","x":23,"y":0.83},{"s":"b","x":26,"y":0.838},{"s":"b","x":30,"y":0.848},{"s":"b","x":34,"y":0.858},{"s":"b","x":38,"y":0.865},{"s":"b","x":42,"y":0.872},{"s":"b","x":46,"y":0.877},{"s":"b","x":50,"y":0.88},
{"s":"g","x":5,"y":0.575},{"s":"g","x":6,"y":0.64},{"s":"g","x":7,"y":0.7},{"s":"g","x":8,"y":0.745},{"s":"g","x":9,"y":0.75},{"s":"g","x":10,"y":0.765},{"s":"g","x":12,"y":0.78},{"s":"g","x":14,"y":0.795},{"s":"g","x":16,"y":0.805},{"s":"g","x":18,"y":0.815},{"s":"g","x":20,"y":0.82},{"s":"g","x":23,"y":0.828},{"s":"g","x":26,"y":0.835},{"s":"g","x":30,"y":0.842},{"s":"g","x":34,"y":0.852},{"s":"g","x":38,"y":0.86},{"s":"g","x":42,"y":0.865},{"s":"g","x":46,"y":0.868},{"s":"g","x":50,"y":0.872},
{"s":"r","x":5,"y":0.675},{"s":"r","x":6,"y":0.71},{"s":"r","x":7,"y":0.74},{"s":"r","x":8,"y":0.76},{"s":"r","x":9,"y":0.785},{"s":"r","x":10,"y":0.785},{"s":"r","x":12,"y":0.8},{"s":"r","x":14,"y":0.81},{"s":"r","x":16,"y":0.82},{"s":"r","x":18,"y":0.83},{"s":"r","x":20,"y":0.838},{"s":"r","x":23,"y":0.845},{"s":"r","x":26,"y":0.85},{"s":"r","x":30,"y":0.855},{"s":"r","x":34,"y":0.862},{"s":"r","x":38,"y":0.867},{"s":"r","x":42,"y":0.871},{"s":"r","x":46,"y":0.875},{"s":"r","x":50,"y":0.877},
{"s":"k","x":5,"y":0.62},{"s":"k","x":6,"y":0.66},{"s":"k","x":7,"y":0.69},{"s":"k","x":8,"y":0.71},{"s":"k","x":9,"y":0.72},{"s":"k","x":10,"y":0.73},{"s":"k","x":12,"y":0.745},{"s":"k","x":14,"y":0.758},{"s":"k","x":16,"y":0.77},{"s":"k","x":18,"y":0.778},{"s":"k","x":20,"y":0.785},{"s":"k","x":23,"y":0.795},{"s":"k","x":26,"y":0.805},{"s":"k","x":30,"y":0.815},{"s":"k","x":34,"y":0.824},{"s":"k","x":38,"y":0.832},{"s":"k","x":42,"y":0.84},{"s":"k","x":46,"y":0.848},{"s":"k","x":50,"y":0.855},
{"s":"o","x":5,"y":0.56},{"s":"o","x":6,"y":0.6},{"s":"o","x":7,"y":0.65},{"s":"o","x":8,"y":0.68},{"s":"o","x":9,"y":0.7},{"s":"o","x":10,"y":0.715},{"s":"o","x":12,"y":0.74},{"s":"o","x":14,"y":0.755},{"s":"o","x":16,"y":0.77},{"s":"o","x":18,"y":0.78},{"s":"o","x":20,"y":0.79},{"s":"o","x":23,"y":0.8},{"s":"o","x":26,"y":0.81},{"s":"o","x":30,"y":0.82},{"s":"o","x":34,"y":0.832},{"s":"o","x":38,"y":0.845},{"s":"o","x":42,"y":0.855},{"s":"o","x":46,"y":0.862},{"s":"o","x":50,"y":0.867},
{"s":"m","x":5,"y":0.558},{"s":"m","x":6,"y":0.6},{"s":"m","x":7,"y":0.64},{"s":"m","x":8,"y":0.67},{"s":"m","x":9,"y":0.69},{"s":"m","x":10,"y":0.71},{"s":"m","x":12,"y":0.72},{"s":"m","x":14,"y":0.735},{"s":"m","x":16,"y":0.745},{"s":"m","x":18,"y":0.75},{"s":"m","x":20,"y":0.76},{"s":"m","x":23,"y":0.78},{"s":"m","x":26,"y":0.795},{"s":"m","x":30,"y":0.81},{"s":"m","x":34,"y":0.825},{"s":"m","x":38,"y":0.84},{"s":"m","x":42,"y":0.85},{"s":"m","x":46,"y":0.858},{"s":"m","x":50,"y":0.865}
],
"d11": [
{"s":"b","x":5,"y":5.23},{"s":"b","x":6,"y":5.21},{"s":"b","x":7,"y":5.2},{"s":"b","x":8,"y":5.18},{"s":"b","x":9,"y":5.12},{"s":"b","x":10,"y":5.12},{"s":"b","x":11,"y":5.14},{"s":"b","x":12,"y":5.1},{"s":"b","x":13,"y":5.08},{"s":"b","x":14,"y":5.05},{"s":"b","x":15,"y":5.04},{"s":"b","x":16,"y":5.02},{"s":"b","x":17,"y":5.01},{"s":"b","x":18,"y":5.0},{"s":"b","x":19,"y":5.03},{"s":"b","x":20,"y":5.05},{"s":"b","x":21,"y":5.05},{"s":"b","x":22,"y":5.05},{"s":"b","x":23,"y":5.08},{"s":"b","x":24,"y":5.09},{"s":"b","x":25,"y":5.09},{"s":"b","x":26,"y":5.08},{"s":"b","x":27,"y":5.06},{"s":"b","x":28,"y":5.04},{"s":"b","x":30,"y":5.04},{"s":"b","x":32,"y":5.02},{"s":"b","x":34,"y":4.98},{"s":"b","x":36,"y":4.97},{"s":"b","x":38,"y":4.96},{"s":"b","x":40,"y":4.95},{"s":"b","x":42,"y":4.94},{"s":"b","x":44,"y":4.93},{"s":"b","x":46,"y":4.92},{"s":"b","x":48,"y":4.9},{"s":"b","x":50,"y":4.86},
{"s":"g","x":5,"y":5.48},{"s":"g","x":6,"y":5.52},{"s":"g","x":7,"y":5.47},{"s":"g","x":8,"y":5.5},{"s":"g","x":9,"y":5.54},{"s":"g","x":10,"y":5.57},{"s":"g","x":11,"y":5.5},{"s":"g","x":12,"y":5.46},{"s":"g","x":13,"y":5.48},{"s":"g","x":14,"y":5.45},{"s":"g","x":15,"y":5.45},{"s":"g","x":16,"y":5.43},{"s":"g","x":17,"y":5.42},{"s":"g","x":18,"y":5.36},{"s":"g","x":19,"y":5.35},{"s":"g","x":20,"y":5.33},{"s":"g","x":21,"y":5.26},{"s":"g","x":22,"y":5.34},{"s":"g","x":23,"y":5.2},{"s":"g","x":24,"y":5.15},{"s":"g","x":25,"y":5.19},{"s":"g","x":26,"y":5.12},{"s":"g","x":27,"y":5.1},{"s":"g","x":28,"y":5.1},{"s":"g","x":29,"y":5.16},{"s":"g","x":30,"y":5.06},{"s":"g","x":31,"y":5.05},{"s":"g","x":32,"y":5.05},{"s":"g","x":33,"y":5.0},{"s":"g","x":34,"y":4.98},{"s":"g","x":35,"y":4.97},{"s":"g","x":36,"y":4.95},{"s":"g","x":37,"y":4.99},{"s":"g","x":38,"y":4.95},{"s":"g","x":39,"y":4.94},{"s":"g","x":40,"y":4.96},{"s":"g","x":41,"y":4.92},{"s":"g","x":42,"y":4.9},{"s":"g","x":43,"y":4.86},{"s":"g","x":44,"y":4.89},{"s":"g","x":45,"y":4.88},{"s":"g","x":46,"y":4.88},{"s":"g","x":47,"y":4.87},{"s":"g","x":48,"y":4.87},{"s":"g","x":49,"y":4.86},{"s":"g","x":50,"y":4.83},
{"s":"r","x":5,"y":5.66},{"s":"r","x":6,"y":5.48},{"s":"r","x":7,"y":5.33},{"s":"r","x":8,"y":5.45},{"s":"r","x":9,"y":5.34},{"s":"r","x":10,"y":5.33},{"s":"r","x":11,"y":5.38},{"s":"r","x":12,"y":5.45},{"s":"r","x":13,"y":5.3},{"s":"r","x":14,"y":5.38},{"s":"r","x":15,"y":5.43},{"s":"r","x":16,"y":5.45},{"s":"r","x":17,"y":5.35},{"s":"r","x":18,"y":5.3},{"s":"r","x":19,"y":5.3},{"s":"r","x":20,"y":5.37},{"s":"r","x":21,"y":5.22},{"s":"r","x":22,"y":5.28},{"s":"r","x":23,"y":5.2},{"s":"r","x":24,"y":5.16},{"s":"r","x":25,"y":5.16},{"s":"r","x":26,"y":5.12},{"s":"r","x":27,"y":5.08},{"s":"r","x":28,"y":5.05},{"s":"r","x":29,"y":5.13},{"s":"r","x":30,"y":5.03},{"s":"r","x":31,"y":5.02},{"s":"r","x":32,"y":5.04},{"s":"r","x":33,"y":5.0},{"s":"r","x":34,"y":4.96},{"s":"r","x":35,"y":4.95},{"s":"r","x":36,"y":4.95},{"s":"r","x":37,"y":4.98},{"s":"r","x":38,"y":4.92},{"s":"r","x":39,"y":4.96},{"s":"r","x":40,"y":4.92},{"s":"r","x":41,"y":4.9},{"s":"r","x":42,"y":4.9},{"s":"r","x":43,"y":4.95},{"s":"r","x":44,"y":4.93},{"s":"r","x":45,"y":4.9},{"s":"r","x":46,"y":4.86},{"s":"r","x":47,"y":4.85},{"s":"r","x":48,"y":4.9},{"s":"r","x":49,"y":4.86},{"s":"r","x":50,"y":4.83},
{"s":"k","x":5,"y":5.48},{"s":"k","x":6,"y":5.44},{"s":"k","x":7,"y":5.4},{"s":"k","x":8,"y":5.37},{"s":"k","x":10,"y":5.33},{"s":"k","x":12,"y":5.3},{"s":"k","x":14,"y":5.28},{"s":"k","x":16,"y":5.25},{"s":"k","x":18,"y":5.23},{"s":"k","x":20,"y":5.2},{"s":"k","x":22,"y":5.17},{"s":"k","x":24,"y":5.12},{"s":"k","x":26,"y":5.09},{"s":"k","x":28,"y":5.07},{"s":"k","x":30,"y":5.05},{"s":"k","x":32,"y":5.03},{"s":"k","x":34,"y":5.0},{"s":"k","x":36,"y":4.98},{"s":"k","x":38,"y":4.97},{"s":"k","x":40,"y":4.96},{"s":"k","x":42,"y":4.94},{"s":"k","x":44,"y":4.93},{"s":"k","x":46,"y":4.92},{"s":"k","x":48,"y":4.91},{"s":"k","x":50,"y":4.9},
{"s":"o","x":5,"y":5.56},{"s":"o","x":6,"y":5.54},{"s":"o","x":7,"y":5.52},{"s":"o","x":8,"y":5.5},{"s":"o","x":10,"y":5.46},{"s":"o","x":12,"y":5.43},{"s":"o","x":14,"y":5.38},{"s":"o","x":16,"y":5.34},{"s":"o","x":18,"y":5.3},{"s":"o","x":20,"y":5.28},{"s":"o","x":22,"y":5.25},{"s":"o","x":24,"y":5.23},{"s":"o","x":26,"y":5.22},{"s":"o","x":28,"y":5.17},{"s":"o","x":30,"y":5.12},{"s":"o","x":32,"y":5.1},{"s":"o","x":34,"y":5.07},{"s":"o","x":36,"y":5.05},{"s":"o","x":38,"y":5.02},{"s":"o","x":40,"y":5.02},{"s":"o","x":42,"y":4.98},{"s":"o","x":44,"y":4.96},{"s":"o","x":46,"y":4.95},{"s":"o","x":48,"y":4.93},{"s":"o","x":50,"y":4.9},
{"s":"m","x":5,"y":5.56},{"s":"m","x":6,"y":5.55},{"s":"m","x":7,"y":5.54},{"s":"m","x":8,"y":5.52},{"s":"m","x":10,"y":5.48},{"s":"m","x":12,"y":5.44},{"s":"m","x":14,"y":5.41},{"s":"m","x":16,"y":5.4},{"s":"m","x":18,"y":5.37},{"s":"m","x":20,"y":5.35},{"s":"m","x":22,"y":5.3},{"s":"m","x":24,"y":5.27},{"s":"m","x":26,"y":5.24},{"s":"m","x":28,"y":5.2},{"s":"m","x":30,"y":5.15},{"s":"m","x":32,"y":5.13},{"s":"m","x":34,"y":5.13},{"s":"m","x":36,"y":5.1},{"s":"m","x":38,"y":5.07},{"s":"m","x":40,"y":5.05},{"s":"m","x":42,"y":5.03},{"s":"m","x":44,"y":5.01},{"s":"m","x":46,"y":5.02},{"s":"m","x":48,"y":5.0},{"s":"m","x":50,"y":4.98}
],
"d12": [
{"s":"b","x":5,"y":0.21},{"s":"b","x":6,"y":0.24},{"s":"b","x":7,"y":0.27},{"s":"b","x":8,"y":0.29},{"s":"b","x":9,"y":0.32},{"s":"b","x":10,"y":0.33},{"s":"b","x":11,"y":0.34},{"s":"b","x":12,"y":0.35},{"s":"b","x":13,"y":0.36},{"s":"b","x":14,"y":0.365},{"s":"b","x":16,"y":0.38},{"s":"b","x":17,"y":0.385},{"s":"b","x":18,"y":0.39},{"s":"b","x":19,"y":0.392},{"s":"b","x":20,"y":0.39},{"s":"b","x":21,"y":0.39},{"s":"b","x":22,"y":0.388},{"s":"b","x":23,"y":0.39},{"s":"b","x":24,"y":0.392},{"s":"b","x":26,"y":0.395},{"s":"b","x":28,"y":0.4},{"s":"b","x":30,"y":0.403},{"s":"b","x":32,"y":0.405},{"s":"b","x":34,"y":0.41},{"s":"b","x":36,"y":0.415},{"s":"b","x":38,"y":0.415},{"s":"b","x":40,"y":0.418},{"s":"b","x":42,"y":0.42},{"s":"b","x":44,"y":0.425},{"s":"b","x":46,"y":0.43},{"s":"b","x":48,"y":0.435},{"s":"b","x":50,"y":0.44},
{"s":"g","x":5,"y":0.21},{"s":"g","x":6,"y":0.25},{"s":"g","x":7,"y":0.3},{"s":"g","x":8,"y":0.32},{"s":"g","x":9,"y":0.31},{"s":"g","x":10,"y":0.33},{"s":"g","x":11,"y":0.33},{"s":"g","x":12,"y":0.34},{"s":"g","x":13,"y":0.355},{"s":"g","x":14,"y":0.345},{"s":"g","x":16,"y":0.345},{"s":"g","x":17,"y":0.35},{"s":"g","x":18,"y":0.35},{"s":"g","x":20,"y":0.35},{"s":"g","x":21,"y":0.35},{"s":"g","x":22,"y":0.345},{"s":"g","x":23,"y":0.37},{"s":"g","x":24,"y":0.38},{"s":"g","x":25,"y":0.37},{"s":"g","x":26,"y":0.38},{"s":"g","x":28,"y":0.375},{"s":"g","x":30,"y":0.38},{"s":"g","x":32,"y":0.38},{"s":"g","x":33,"y":0.39},{"s":"g","x":34,"y":0.405},{"s":"g","x":36,"y":0.395},{"s":"g","x":37,"y":0.39},{"s":"g","x":38,"y":0.41},{"s":"g","x":40,"y":0.42},{"s":"g","x":42,"y":0.42},{"s":"g","x":44,"y":0.425},{"s":"g","x":46,"y":0.43},{"s":"g","x":48,"y":0.425},{"s":"g","x":50,"y":0.435},
{"s":"r","x":5,"y":0.2},{"s":"r","x":6,"y":0.25},{"s":"r","x":7,"y":0.3},{"s":"r","x":8,"y":0.29},{"s":"r","x":9,"y":0.32},{"s":"r","x":10,"y":0.35},{"s":"r","x":11,"y":0.315},{"s":"r","x":12,"y":0.34},{"s":"r","x":13,"y":0.36},{"s":"r","x":14,"y":0.355},{"s":"r","x":15,"y":0.35},{"s":"r","x":16,"y":0.355},{"s":"r","x":17,"y":0.375},{"s":"r","x":18,"y":0.36},{"s":"r","x":19,"y":0.38},{"s":"r","x":20,"y":0.355},{"s":"r","x":21,"y":0.38},{"s":"r","x":22,"y":0.37},{"s":"r","x":23,"y":0.375},{"s":"r","x":24,"y":0.395},{"s":"r","x":25,"y":0.38},{"s":"r","x":26,"y":0.39},{"s":"r","x":27,"y":0.405},{"s":"r","x":28,"y":0.4},{"s":"r","x":29,"y":0.39},{"s":"r","x":30,"y":0.41},{"s":"r","x":31,"y":0.395},{"s":"r","x":32,"y":0.415},{"s":"r","x":33,"y":0.4},{"s":"r","x":34,"y":0.41},{"s":"r","x":35,"y":0.415},{"s":"r","x":36,"y":0.418},{"s":"r","x":37,"y":0.41},{"s":"r","x":38,"y":0.415},{"s":"r","x":39,"y":0.41},{"s":"r","x":40,"y":0.425},{"s":"r","x":41,"y":0.42},{"s":"r","x":42,"y":0.43},{"s":"r","x":43,"y":0.415},{"s":"r","x":44,"y":0.42},{"s":"r","x":45,"y":0.43},{"s":"r","x":46,"y":0.44},{"s":"r","x":47,"y":0.43},{"s":"r","x":48,"y":0.435},{"s":"r","x":49,"y":0.44},{"s":"r","x":50,"y":0.445},
{"s":"k","x":5,"y":0.155},{"s":"k","x":6,"y":0.175},{"s":"k","x":7,"y":0.2},{"s":"k","x":8,"y":0.22},{"s":"k","x":9,"y":0.24},{"s":"k","x":10,"y":0.255},{"s":"k","x":12,"y":0.27},{"s":"k","x":14,"y":0.285},{"s":"k","x":16,"y":0.3},{"s":"k","x":18,"y":0.31},{"s":"k","x":20,"y":0.32},{"s":"k","x":22,"y":0.33},{"s":"k","x":24,"y":0.34},{"s":"k","x":26,"y":0.35},{"s":"k","x":28,"y":0.36},{"s":"k","x":30,"y":0.37},{"s":"k","x":32,"y":0.375},{"s":"k","x":34,"y":0.38},{"s":"k","x":36,"y":0.385},{"s":"k","x":38,"y":0.39},{"s":"k","x":40,"y":0.395},{"s":"k","x":42,"y":0.4},{"s":"k","x":44,"y":0.405},{"s":"k","x":46,"y":0.41},{"s":"k","x":48,"y":0.415},{"s":"k","x":50,"y":0.42},
{"s":"o","x":5,"y":0.16},{"s":"o","x":6,"y":0.17},{"s":"o","x":7,"y":0.195},{"s":"o","x":8,"y":0.22},{"s":"o","x":9,"y":0.235},{"s":"o","x":10,"y":0.24},{"s":"o","x":12,"y":0.26},{"s":"o","x":14,"y":0.275},{"s":"o","x":16,"y":0.29},{"s":"o","x":18,"y":0.3},{"s":"o","x":20,"y":0.31},{"s":"o","x":22,"y":0.32},{"s":"o","x":24,"y":0.33},{"s":"o","x":26,"y":0.345},{"s":"o","x":28,"y":0.35},{"s":"o","x":30,"y":0.36},{"s":"o","x":32,"y":0.365},{"s":"o","x":34,"y":0.37},{"s":"o","x":36,"y":0.375},{"s":"o","x":38,"y":0.38},{"s":"o","x":40,"y":0.385},{"s":"o","x":42,"y":0.39},{"s":"o","x":44,"y":0.395},{"s":"o","x":46,"y":0.4},{"s":"o","x":48,"y":0.403},{"s":"o","x":50,"y":0.405},
{"s":"m","x":5,"y":0.165},{"s":"m","x":6,"y":0.175},{"s":"m","x":7,"y":0.19},{"s":"m","x":8,"y":0.21},{"s":"m","x":9,"y":0.23},{"s":"m","x":10,"y":0.235},{"s":"m","x":12,"y":0.25},{"s":"m","x":14,"y":0.27},{"s":"m","x":15,"y":0.285},{"s":"m","x":16,"y":0.288},{"s":"m","x":18,"y":0.29},{"s":"m","x":20,"y":0.3},{"s":"m","x":22,"y":0.31},{"s":"m","x":24,"y":0.32},{"s":"m","x":26,"y":0.335},{"s":"m","x":28,"y":0.335},{"s":"m","x":30,"y":0.35},{"s":"m","x":32,"y":0.36},{"s":"m","x":34,"y":0.365},{"s":"m","x":36,"y":0.37},{"s":"m","x":38,"y":0.38},{"s":"m","x":40,"y":0.385},{"s":"m","x":42,"y":0.39},{"s":"m","x":44,"y":0.395},{"s":"m","x":46,"y":0.4},{"s":"m","x":48,"y":0.405},{"s":"m","x":50,"y":0.41}
],
"d13": [
{"s":"b","x":5,"y":6.57},{"s":"b","x":6,"y":6.5},{"s":"b","x":7,"y":6.25},{"s":"b","x":8,"y":5.85},{"s":"b","x":9,"y":5.35},{"s":"b","x":10,"y":5.05},{"s":"b","x":12,"y":4.55},{"s":"b","x":14,"y":4.25},{"s":"b","x":16,"y":4.07},{"s":"b","x":18,"y":3.98},{"s":"b","x":20,"y":3.88},{"s":"b","x":23,"y":3.72},{"s":"b","x":26,"y":3.63},{"s":"b","x":30,"y":3.57},{"s":"b","x":34,"y":3.5},{"s":"b","x":38,"y":3.46},{"s":"b","x":42,"y":3.42},{"s":"b","x":46,"y":3.38},{"s":"b","x":50,"y":3.33},
{"s":"g","x":5,"y":4.85},{"s":"g","x":6,"y":4.45},{"s":"g","x":7,"y":4.42},{"s":"g","x":8,"y":4.45},{"s":"g","x":9,"y":4.4},{"s":"g","x":10,"y":4.42},{"s":"g","x":12,"y":4.4},{"s":"g","x":14,"y":4.35},{"s":"g","x":16,"y":4.3},{"s":"g","x":18,"y":4.27},{"s":"g","x":20,"y":4.28},{"s":"g","x":23,"y":4.22},{"s":"g","x":26,"y":4.18},{"s":"g","x":30,"y":4.1},{"s":"g","x":34,"y":4.0},{"s":"g","x":38,"y":3.95},{"s":"g","x":42,"y":3.88},{"s":"g","x":46,"y":3.78},{"s":"g","x":50,"y":3.67},
{"s":"r","x":5,"y":5.05},{"s":"r","x":6,"y":4.75},{"s":"r","x":7,"y":4.55},{"s":"r","x":8,"y":4.4},{"s":"r","x":9,"y":4.3},{"s":"r","x":10,"y":4.22},{"s":"r","x":12,"y":4.15},{"s":"r","x":14,"y":4.05},{"s":"r","x":16,"y":3.97},{"s":"r","x":18,"y":3.95},{"s":"r","x":20,"y":3.9},{"s":"r","x":22,"y":3.8},{"s":"r","x":24,"y":3.75},{"s":"r","x":26,"y":3.7},{"s":"r","x":30,"y":3.6},{"s":"r","x":34,"y":3.52},{"s":"r","x":38,"y":3.47},{"s":"r","x":42,"y":3.42},{"s":"r","x":46,"y":3.38},{"s":"r","x":50,"y":3.33},
{"s":"k","x":5,"y":6.3},{"s":"k","x":6,"y":6.0},{"s":"k","x":7,"y":5.6},{"s":"k","x":8,"y":5.2},{"s":"k","x":9,"y":4.9},{"s":"k","x":10,"y":4.7},{"s":"k","x":12,"y":4.5},{"s":"k","x":14,"y":4.35},{"s":"k","x":16,"y":4.2},{"s":"k","x":18,"y":4.1},{"s":"k","x":20,"y":4.0},{"s":"k","x":23,"y":3.88},{"s":"k","x":26,"y":3.8},{"s":"k","x":30,"y":3.72},{"s":"k","x":34,"y":3.65},{"s":"k","x":38,"y":3.6},{"s":"k","x":42,"y":3.56},{"s":"k","x":46,"y":3.53},{"s":"k","x":50,"y":3.5},
{"s":"o","x":5,"y":6.45},{"s":"o","x":6,"y":6.1},{"s":"o","x":7,"y":5.7},{"s":"o","x":8,"y":5.3},{"s":"o","x":9,"y":5.0},{"s":"o","x":10,"y":4.9},{"s":"o","x":12,"y":4.6},{"s":"o","x":14,"y":4.3},{"s":"o","x":16,"y":4.15},{"s":"o","x":18,"y":4.05},{"s":"o","x":20,"y":3.95},{"s":"o","x":23,"y":3.83},{"s":"o","x":26,"y":3.73},{"s":"o","x":30,"y":3.64},{"s":"o","x":34,"y":3.58},{"s":"o","x":38,"y":3.53},{"s":"o","x":42,"y":3.5},{"s":"o","x":46,"y":3.47},{"s":"o","x":50,"y":3.45},
{"s":"m","x":5,"y":6.5},{"s":"m","x":6,"y":6.2},{"s":"m","x":7,"y":5.6},{"s":"m","x":8,"y":5.0},{"s":"m","x":9,"y":4.75},{"s":"m","x":10,"y":4.6},{"s":"m","x":12,"y":4.45},{"s":"m","x":14,"y":4.25},{"s":"m","x":16,"y":4.1},{"s":"m","x":18,"y":4.0},{"s":"m","x":20,"y":3.9},{"s":"m","x":23,"y":3.8},{"s":"m","x":26,"y":3.7},{"s":"m","x":30,"y":3.62},{"s":"m","x":34,"y":3.55},{"s":"m","x":38,"y":3.5},{"s":"m","x":42,"y":3.47},{"s":"m","x":46,"y":3.44},{"s":"m","x":50,"y":3.41}
],
"d14": [
{"s":"b","x":5,"y":0.876},{"s":"b","x":6,"y":0.9},{"s":"b","x":7,"y":0.91},{"s":"b","x":8,"y":0.915},{"s":"b","x":9,"y":0.918},{"s":"b","x":10,"y":0.92},{"s":"b","x":12,"y":0.923},{"s":"b","x":14,"y":0.926},{"s":"b","x":16,"y":0.928},{"s":"b","x":18,"y":0.929},{"s":"b","x":20,"y":0.93},{"s":"b","x":23,"y":0.932},{"s":"b","x":26,"y":0.934},{"s":"b","x":30,"y":0.936},{"s":"b","x":34,"y":0.938},{"s":"b","x":38,"y":0.94},{"s":"b","x":42,"y":0.941},{"s":"b","x":46,"y":0.942},{"s":"b","x":50,"y":0.943},
{"s":"g","x":5,"y":0.892},{"s":"g","x":6,"y":0.897},{"s":"g","x":7,"y":0.899},{"s":"g","x":8,"y":0.901},{"s":"g","x":9,"y":0.903},{"s":"g","x":10,"y":0.904},{"s":"g","x":12,"y":0.905},{"s":"g","x":14,"y":0.906},{"s":"g","x":16,"y":0.908},{"s":"g","x":18,"y":0.91},{"s":"g","x":20,"y":0.911},{"s":"g","x":23,"y":0.913},{"s":"g","x":26,"y":0.915},{"s":"g","x":30,"y":0.918},{"s":"g","x":34,"y":0.921},{"s":"g","x":38,"y":0.925},{"s":"g","x":42,"y":0.927},{"s":"g","x":46,"y":0.93},{"s":"g","x":50,"y":0.932},
{"s":"r","x":5,"y":0.893},{"s":"r","x":6,"y":0.898},{"s":"r","x":7,"y":0.902},{"s":"r","x":8,"y":0.906},{"s":"r","x":9,"y":0.909},{"s":"r","x":10,"y":0.912},{"s":"r","x":12,"y":0.915},{"s":"r","x":14,"y":0.918},{"s":"r","x":16,"y":0.92},{"s":"r","x":18,"y":0.922},{"s":"r","x":20,"y":0.924},{"s":"r","x":23,"y":0.927},{"s":"r","x":26,"y":0.93},{"s":"r","x":30,"y":0.933},{"s":"r","x":34,"y":0.935},{"s":"r","x":38,"y":0.937},{"s":"r","x":42,"y":0.939},{"s":"r","x":46,"y":0.941},{"s":"r","x":50,"y":0.942},
{"s":"k","x":5,"y":0.803},{"s":"k","x":6,"y":0.835},{"s":"k","x":7,"y":0.862},{"s":"k","x":8,"y":0.88},{"s":"k","x":9,"y":0.89},{"s":"k","x":10,"y":0.896},{"s":"k","x":12,"y":0.903},{"s":"k","x":14,"y":0.908},{"s":"k","x":16,"y":0.912},{"s":"k","x":18,"y":0.915},{"s":"k","x":20,"y":0.918},{"s":"k","x":23,"y":0.921},{"s":"k","x":26,"y":0.924},{"s":"k","x":30,"y":0.927},{"s":"k","x":34,"y":0.929},{"s":"k","x":38,"y":0.932},{"s":"k","x":42,"y":0.933},{"s":"k","x":46,"y":0.934},{"s":"k","x":50,"y":0.935},
{"s":"o","x":5,"y":0.8},{"s":"o","x":6,"y":0.835},{"s":"o","x":7,"y":0.865},{"s":"o","x":8,"y":0.885},{"s":"o","x":9,"y":0.895},{"s":"o","x":10,"y":0.903},{"s":"o","x":12,"y":0.912},{"s":"o","x":14,"y":0.917},{"s":"o","x":16,"y":0.92},{"s":"o","x":18,"y":0.922},{"s":"o","x":20,"y":0.924},{"s":"o","x":23,"y":0.927},{"s":"o","x":26,"y":0.93},{"s":"o","x":30,"y":0.933},{"s":"o","x":34,"y":0.935},{"s":"o","x":38,"y":0.937},{"s":"o","x":42,"y":0.938},{"s":"o","x":46,"y":0.94},{"s":"o","x":50,"y":0.941},
{"s":"m","x":5,"y":0.797},{"s":"m","x":6,"y":0.83},{"s":"m","x":7,"y":0.858},{"s":"m","x":8,"y":0.878},{"s":"m","x":9,"y":0.89},{"s":"m","x":10,"y":0.897},{"s":"m","x":12,"y":0.905},{"s":"m","x":14,"y":0.912},{"s":"m","x":16,"y":0.916},{"s":"m","x":18,"y":0.918},{"s":"m","x":20,"y":0.92},{"s":"m","x":23,"y":0.924},{"s":"m","x":26,"y":0.927},{"s":"m","x":30,"y":0.93},{"s":"m","x":34,"y":0.933},{"s":"m","x":38,"y":0.935},{"s":"m","x":42,"y":0.937},{"s":"m","x":46,"y":0.938},{"s":"m","x":50,"y":0.939}
],
"d15": [
{"s":"b","x":5,"y":0.353},{"s":"b","x":6,"y":0.345},{"s":"b","x":7,"y":0.335},{"s":"b","x":8,"y":0.325},{"s":"b","x":9,"y":0.313},{"s":"b","x":10,"y":0.302},{"s":"b","x":11,"y":0.29},{"s":"b","x":12,"y":0.279},{"s":"b","x":14,"y":0.262},{"s":"b","x":16,"y":0.255},{"s":"b","x":18,"y":0.251},{"s":"b","x":20,"y":0.248},{"s":"b","x":23,"y":0.246},{"s":"b","x":26,"y":0.244},{"s":"b","x":30,"y":0.241},{"s":"b","x":34,"y":0.238},{"s":"b","x":38,"y":0.235},{"s":"b","x":42,"y":0.232},{"s":"b","x":46,"y":0.23},{"s":"b","x":50,"y":0.228},
{"s":"g","x":5,"y":0.273},{"s":"g","x":6,"y":0.262},{"s":"g","x":7,"y":0.258},{"s":"g","x":8,"y":0.258},{"s":"g","x":9,"y":0.256},{"s":"g","x":10,"y":0.254},{"s":"g","x":12,"y":0.252},{"s":"g","x":14,"y":0.252},{"s":"g","x":16,"y":0.25},{"s":"g","x":18,"y":0.25},{"s":"g","x":20,"y":0.249},{"s":"g","x":23,"y":0.248},{"s":"g","x":26,"y":0.249},{"s":"g","x":30,"y":0.247},{"s":"g","x":34,"y":0.247},{"s":"g","x":38,"y":0.246},{"s":"g","x":40,"y":0.246},{"s":"g","x":42,"y":0.245},{"s":"g","x":44,"y":0.248},{"s":"g","x":46,"y":0.245},{"s":"g","x":50,"y":0.246},
{"s":"r","x":5,"y":0.278},{"s":"r","x":6,"y":0.268},{"s":"r","x":7,"y":0.263},{"s":"r","x":8,"y":0.261},{"s":"r","x":9,"y":0.26},{"s":"r","x":10,"y":0.258},{"s":"r","x":11,"y":0.253},{"s":"r","x":12,"y":0.256},{"s":"r","x":13,"y":0.252},{"s":"r","x":14,"y":0.25},{"s":"r","x":16,"y":0.247},{"s":"r","x":18,"y":0.245},{"s":"r","x":20,"y":0.244},{"s":"r","x":23,"y":0.241},{"s":"r","x":26,"y":0.239},{"s":"r","x":30,"y":0.238},{"s":"r","x":34,"y":0.236},{"s":"r","x":38,"y":0.234},{"s":"r","x":42,"y":0.233},{"s":"r","x":44,"y":0.235},{"s":"r","x":46,"y":0.233},{"s":"r","x":50,"y":0.232},
{"s":"k","x":5,"y":0.32},{"s":"k","x":6,"y":0.315},{"s":"k","x":7,"y":0.308},{"s":"k","x":8,"y":0.302},{"s":"k","x":9,"y":0.297},{"s":"k","x":10,"y":0.293},{"s":"k","x":12,"y":0.287},{"s":"k","x":14,"y":0.282},{"s":"k","x":16,"y":0.278},{"s":"k","x":18,"y":0.275},{"s":"k","x":20,"y":0.272},{"s":"k","x":23,"y":0.268},{"s":"k","x":26,"y":0.265},{"s":"k","x":30,"y":0.262},{"s":"k","x":34,"y":0.259},{"s":"k","x":38,"y":0.256},{"s":"k","x":42,"y":0.254},{"s":"k","x":46,"y":0.252},{"s":"k","x":50,"y":0.25},
{"s":"o","x":5,"y":0.327},{"s":"o","x":6,"y":0.322},{"s":"o","x":7,"y":0.315},{"s":"o","x":8,"y":0.309},{"s":"o","x":9,"y":0.303},{"s":"o","x":10,"y":0.299},{"s":"o","x":12,"y":0.293},{"s":"o","x":14,"y":0.287},{"s":"o","x":16,"y":0.282},{"s":"o","x":18,"y":0.278},{"s":"o","x":20,"y":0.275},{"s":"o","x":23,"y":0.271},{"s":"o","x":26,"y":0.267},{"s":"o","x":30,"y":0.263},{"s":"o","x":34,"y":0.259},{"s":"o","x":38,"y":0.256},{"s":"o","x":42,"y":0.253},{"s":"o","x":46,"y":0.25},{"s":"o","x":50,"y":0.248},
{"s":"m","x":5,"y":0.33},{"s":"m","x":6,"y":0.325},{"s":"m","x":7,"y":0.318},{"s":"m","x":8,"y":0.312},{"s":"m","x":9,"y":0.307},{"s":"m","x":10,"y":0.303},{"s":"m","x":12,"y":0.297},{"s":"m","x":14,"y":0.29},{"s":"m","x":16,"y":0.285},{"s":"m","x":18,"y":0.281},{"s":"m","x":20,"y":0.278},{"s":"m","x":23,"y":0.274},{"s":"m","x":26,"y":0.27},{"s":"m","x":30,"y":0.266},{"s":"m","x":34,"y":0.262},{"s":"m","x":38,"y":0.259},{"s":"m","x":42,"y":0.256},{"s":"m","x":46,"y":0.253},{"s":"m","x":50,"y":0.251}
],
"d16": [
{"s":"b","x":5,"y":0.622},{"s":"b","x":6,"y":0.65},{"s":"b","x":7,"y":0.67},{"s":"b","x":8,"y":0.68},{"s":"b","x":9,"y":0.695},{"s":"b","x":10,"y":0.705},{"s":"b","x":12,"y":0.715},{"s":"b","x":14,"y":0.72},{"s":"b","x":16,"y":0.725},{"s":"b","x":18,"y":0.725},{"s":"b","x":20,"y":0.726},{"s":"b","x":23,"y":0.728},{"s":"b","x":26,"y":0.732},{"s":"b","x":30,"y":0.738},{"s":"b","x":34,"y":0.745},{"s":"b","x":38,"y":0.75},{"s":"b","x":42,"y":0.755},{"s":"b","x":46,"y":0.759},{"s":"b","x":50,"y":0.762},
{"s":"g","x":5,"y":0.667},{"s":"g","x":6,"y":0.672},{"s":"g","x":7,"y":0.68},{"s":"g","x":8,"y":0.685},{"s":"g","x":9,"y":0.68},{"s":"g","x":10,"y":0.69},{"s":"g","x":11,"y":0.696},{"s":"g","x":12,"y":0.693},{"s":"g","x":14,"y":0.694},{"s":"g","x":16,"y":0.695},{"s":"g","x":18,"y":0.697},{"s":"g","x":20,"y":0.7},{"s":"g","x":23,"y":0.7},{"s":"g","x":26,"y":0.703},{"s":"g","x":30,"y":0.705},{"s":"g","x":32,"y":0.708},{"s":"g","x":34,"y":0.705},{"s":"g","x":38,"y":0.71},{"s":"g","x":40,"y":0.702},{"s":"g","x":42,"y":0.71},{"s":"g","x":46,"y":0.71},{"s":"g","x":50,"y":0.712},
{"s":"r","x":5,"y":0.68},{"s":"r","x":6,"y":0.685},{"s":"r","x":7,"y":0.695},{"s":"r","x":8,"y":0.7},{"s":"r","x":9,"y":0.7},{"s":"r","x":10,"y":0.715},{"s":"r","x":11,"y":0.71},{"s":"r","x":12,"y":0.712},{"s":"r","x":14,"y":0.717},{"s":"r","x":16,"y":0.72},{"s":"r","x":18,"y":0.722},{"s":"r","x":20,"y":0.722},{"s":"r","x":22,"y":0.726},{"s":"r","x":24,"y":0.727},{"s":"r","x":26,"y":0.728},{"s":"r","x":30,"y":0.73},{"s":"r","x":34,"y":0.735},{"s":"r","x":38,"y":0.738},{"s":"r","x":40,"y":0.735},{"s":"r","x":42,"y":0.738},{"s":"r","x":46,"y":0.741},{"s":"r","x":48,"y":0.742},{"s":"r","x":50,"y":0.74},
{"s":"k","x":5,"y":0.5},{"s":"k","x":6,"y":0.55},{"s":"k","x":7,"y":0.58},{"s":"k","x":8,"y":0.595},{"s":"k","x":9,"y":0.6},{"s":"k","x":10,"y":0.605},{"s":"k","x":12,"y":0.615},{"s":"k","x":14,"y":0.625},{"s":"k","x":16,"y":0.635},{"s":"k","x":18,"y":0.645},{"s":"k","x":20,"y":0.652},{"s":"k","x":23,"y":0.66},{"s":"k","x":26,"y":0.665},{"s":"k","x":30,"y":0.672},{"s":"k","x":34,"y":0.678},{"s":"k","x":38,"y":0.684},{"s":"k","x":42,"y":0.688},{"s":"k","x":46,"y":0.692},{"s":"k","x":50,"y":0.697},
{"s":"o","x":5,"y":0.49},{"s":"o","x":6,"y":0.51},{"s":"o","x":7,"y":0.535},{"s":"o","x":8,"y":0.555},{"s":"o","x":9,"y":0.57},{"s":"o","x":10,"y":0.58},{"s":"o","x":12,"y":0.6},{"s":"o","x":14,"y":0.615},{"s":"o","x":16,"y":0.63},{"s":"o","x":18,"y":0.64},{"s":"o","x":20,"y":0.648},{"s":"o","x":23,"y":0.657},{"s":"o","x":26,"y":0.665},{"s":"o","x":30,"y":0.675},{"s":"o","x":34,"y":0.682},{"s":"o","x":38,"y":0.69},{"s":"o","x":42,"y":0.695},{"s":"o","x":46,"y":0.7},{"s":"o","x":50,"y":0.706},
{"s":"m","x":5,"y":0.495},{"s":"m","x":6,"y":0.525},{"s":"m","x":7,"y":0.55},{"s":"m","x":8,"y":0.565},{"s":"m","x":9,"y":0.575},{"s":"m","x":10,"y":0.585},{"s":"m","x":12,"y":0.595},{"s":"m","x":14,"y":0.605},{"s":"m","x":16,"y":0.61},{"s":"m","x":18,"y":0.62},{"s":"m","x":20,"y":0.632},{"s":"m","x":23,"y":0.645},{"s":"m","x":26,"y":0.655},{"s":"m","x":30,"y":0.665},{"s":"m","x":34,"y":0.672},{"s":"m","x":38,"y":0.678},{"s":"m","x":42,"y":0.683},{"s":"m","x":46,"y":0.688},{"s":"m","x":50,"y":0.694}
],
"d17": [
{"s":"b","x":5,"y":18.9},{"s":"b","x":6,"y":18.0},{"s":"b","x":7,"y":17.3},{"s":"b","x":8,"y":16.6},{"s":"b","x":9,"y":16.3},{"s":"b","x":10,"y":16.1},{"s":"b","x":11,"y":15.9},{"s":"b","x":12,"y":15.5},{"s":"b","x":14,"y":14.6},{"s":"b","x":15,"y":14.0},{"s":"b","x":16,"y":13.7},{"s":"b","x":18,"y":13.4},{"s":"b","x":20,"y":13.2},{"s":"b","x":23,"y":13.0},{"s":"b","x":26,"y":12.8},{"s":"b","x":30,"y":12.45},{"s":"b","x":34,"y":12.15},{"s":"b","x":38,"y":11.95},{"s":"b","x":42,"y":11.75},{"s":"b","x":46,"y":11.58},{"s":"b","x":50,"y":11.42},
{"s":"g","x":5,"y":16.5},{"s":"g","x":6,"y":15.6},{"s":"g","x":7,"y":15.0},{"s":"g","x":8,"y":14.6},{"s":"g","x":9,"y":14.3},{"s":"g","x":10,"y":14.05},{"s":"g","x":12,"y":13.9},{"s":"g","x":14,"y":13.65},{"s":"g","x":16,"y":13.6},{"s":"g","x":18,"y":13.3},{"s":"g","x":20,"y":13.2},{"s":"g","x":23,"y":13.0},{"s":"g","x":26,"y":12.95},{"s":"g","x":30,"y":12.7},{"s":"g","x":34,"y":12.45},{"s":"g","x":38,"y":12.25},{"s":"g","x":42,"y":12.05},{"s":"g","x":46,"y":11.85},{"s":"g","x":50,"y":11.7},
{"s":"r","x":5,"y":16.2},{"s":"r","x":6,"y":15.5},{"s":"r","x":7,"y":14.9},{"s":"r","x":8,"y":14.5},{"s":"r","x":9,"y":14.2},{"s":"r","x":10,"y":13.8},{"s":"r","x":12,"y":13.6},{"s":"r","x":13,"y":13.3},{"s":"r","x":14,"y":13.5},{"s":"r","x":16,"y":13.2},{"s":"r","x":18,"y":13.1},{"s":"r","x":20,"y":13.1},{"s":"r","x":23,"y":12.8},{"s":"r","x":26,"y":12.65},{"s":"r","x":30,"y":12.45},{"s":"r","x":34,"y":12.2},{"s":"r","x":38,"y":11.95},{"s":"r","x":42,"y":11.75},{"s":"r","x":46,"y":11.55},{"s":"r","x":50,"y":11.36},
{"s":"k","x":5,"y":16.8},{"s":"k","x":6,"y":16.2},{"s":"k","x":7,"y":15.8},{"s":"k","x":8,"y":15.5},{"s":"k","x":9,"y":15.2},{"s":"k","x":10,"y":15.0},{"s":"k","x":12,"y":14.6},{"s":"k","x":14,"y":14.2},{"s":"k","x":16,"y":13.85},{"s":"k","x":18,"y":13.55},{"s":"k","x":20,"y":13.3},{"s":"k","x":23,"y":13.05},{"s":"k","x":26,"y":12.85},{"s":"k","x":30,"y":12.55},{"s":"k","x":34,"y":12.25},{"s":"k","x":38,"y":12.0},{"s":"k","x":42,"y":11.8},{"s":"k","x":46,"y":11.6},{"s":"k","x":50,"y":11.45},
{"s":"o","x":5,"y":16.8},{"s":"o","x":6,"y":16.5},{"s":"o","x":7,"y":16.2},{"s":"o","x":8,"y":16.0},{"s":"o","x":9,"y":15.8},{"s":"o","x":10,"y":15.6},{"s":"o","x":12,"y":15.35},{"s":"o","x":14,"y":15.05},{"s":"o","x":16,"y":14.85},{"s":"o","x":18,"y":14.65},{"s":"o","x":20,"y":14.5},{"s":"o","x":23,"y":14.25},{"s":"o","x":26,"y":13.95},{"s":"o","x":30,"y":13.45},{"s":"o","x":34,"y":13.2},{"s":"o","x":38,"y":12.95},{"s":"o","x":42,"y":12.75},{"s":"o","x":46,"y":12.55},{"s":"o","x":50,"y":12.3},
{"s":"m","x":5,"y":17.1},{"s":"m","x":6,"y":16.5},{"s":"m","x":7,"y":16.0},{"s":"m","x":8,"y":15.6},{"s":"m","x":9,"y":15.2},{"s":"m","x":10,"y":14.9},{"s":"m","x":12,"y":14.5},{"s":"m","x":14,"y":14.1},{"s":"m","x":16,"y":13.8},{"s":"m","x":18,"y":13.5},{"s":"m","x":20,"y":13.2},{"s":"m","x":23,"y":13.0},{"s":"m","x":26,"y":12.8},{"s":"m","x":30,"y":12.5},{"s":"m","x":34,"y":12.2},{"s":"m","x":38,"y":11.95},{"s":"m","x":42,"y":11.75},{"s":"m","x":46,"y":11.55},{"s":"m","x":50,"y":11.4}
],
"d18": [
{"s":"b","x":5,"y":0.41},{"s":"b","x":6,"y":0.415},{"s":"b","x":7,"y":0.425},{"s":"b","x":8,"y":0.44},{"s":"b","x":9,"y":0.47},{"s":"b","x":10,"y":0.5},{"s":"b","x":12,"y":0.56},{"s":"b","x":14,"y":0.6},{"s":"b","x":16,"y":0.625},{"s":"b","x":18,"y":0.645},{"s":"b","x":20,"y":0.66},{"s":"b","x":23,"y":0.67},{"s":"b","x":26,"y":0.685},{"s":"b","x":30,"y":0.7},{"s":"b","x":34,"y":0.715},{"s":"b","x":38,"y":0.725},{"s":"b","x":42,"y":0.735},{"s":"b","x":46,"y":0.745},{"s":"b","x":50,"y":0.755},
{"s":"g","x":5,"y":0.49},{"s":"g","x":6,"y":0.6},{"s":"g","x":7,"y":0.63},{"s":"g","x":8,"y":0.64},{"s":"g","x":9,"y":0.64},{"s":"g","x":10,"y":0.645},{"s":"g","x":12,"y":0.65},{"s":"g","x":14,"y":0.655},{"s":"g","x":16,"y":0.66},{"s":"g","x":18,"y":0.665},{"s":"g","x":20,"y":0.67},{"s":"g","x":23,"y":0.675},{"s":"g","x":26,"y":0.685},{"s":"g","x":30,"y":0.695},{"s":"g","x":34,"y":0.71},{"s":"g","x":38,"y":0.715},{"s":"g","x":42,"y":0.72},{"s":"g","x":46,"y":0.73},{"s":"g","x":50,"y":0.74},
{"s":"r","x":5,"y":0.455},{"s":"r","x":6,"y":0.46},{"s":"r","x":7,"y":0.57},{"s":"r","x":8,"y":0.6},{"s":"r","x":9,"y":0.615},{"s":"r","x":10,"y":0.63},{"s":"r","x":12,"y":0.64},{"s":"r","x":14,"y":0.645},{"s":"r","x":16,"y":0.65},{"s":"r","x":18,"y":0.665},{"s":"r","x":20,"y":0.667},{"s":"r","x":23,"y":0.675},{"s":"r","x":26,"y":0.69},{"s":"r","x":30,"y":0.705},{"s":"r","x":34,"y":0.72},{"s":"r","x":38,"y":0.73},{"s":"r","x":42,"y":0.74},{"s":"r","x":46,"y":0.75},{"s":"r","x":50,"y":0.762},
{"s":"k","x":5,"y":0.42},{"s":"k","x":6,"y":0.45},{"s":"k","x":7,"y":0.48},{"s":"k","x":8,"y":0.52},{"s":"k","x":9,"y":0.55},{"s":"k","x":10,"y":0.57},{"s":"k","x":12,"y":0.6},{"s":"k","x":14,"y":0.625},{"s":"k","x":16,"y":0.64},{"s":"k","x":18,"y":0.65},{"s":"k","x":20,"y":0.66},{"s":"k","x":23,"y":0.675},{"s":"k","x":26,"y":0.688},{"s":"k","x":30,"y":0.7},{"s":"k","x":34,"y":0.715},{"s":"k","x":38,"y":0.725},{"s":"k","x":42,"y":0.735},{"s":"k","x":46,"y":0.745},{"s":"k","x":50,"y":0.752},
{"s":"o","x":5,"y":0.39},{"s":"o","x":6,"y":0.41},{"s":"o","x":7,"y":0.44},{"s":"o","x":8,"y":0.47},{"s":"o","x":9,"y":0.49},{"s":"o","x":10,"y":0.51},{"s":"o","x":12,"y":0.54},{"s":"o","x":14,"y":0.565},{"s":"o","x":16,"y":0.59},{"s":"o","x":18,"y":0.61},{"s":"o","x":20,"y":0.625},{"s":"o","x":23,"y":0.645},{"s":"o","x":26,"y":0.665},{"s":"o","x":30,"y":0.68},{"s":"o","x":34,"y":0.695},{"s":"o","x":38,"y":0.71},{"s":"o","x":42,"y":0.72},{"s":"o","x":46,"y":0.73},{"s":"o","x":50,"y":0.74},
{"s":"m","x":5,"y":0.395},{"s":"m","x":6,"y":0.42},{"s":"m","x":7,"y":0.45},{"s":"m","x":8,"y":0.48},{"s":"m","x":9,"y":0.51},{"s":"m","x":10,"y":0.53},{"s":"m","x":12,"y":0.56},{"s":"m","x":14,"y":0.58},{"s":"m","x":16,"y":0.6},{"s":"m","x":18,"y":0.62},{"s":"m","x":20,"y":0.635},{"s":"m","x":23,"y":0.655},{"s":"m","x":26,"y":0.675},{"s":"m","x":30,"y":0.695},{"s":"m","x":34,"y":0.71},{"s":"m","x":38,"y":0.72},{"s":"m","x":42,"y":0.73},{"s":"m","x":46,"y":0.74},{"s":"m","x":50,"y":0.752}
]
},
"columns": 6,
"bounds": "flush",
"spacing": {"row": 121, "column": 105},
"concat": [
{"title":"Concrete-CS, RMSE","data":{"name":"d1"},"layer":[{"mark":{"type":"line","clip":true},"encoding":{"x":{"field":"x","type":"quantitative","scale":{"domain":[5,50]},"axis":{"values":[20,40],"title":null}},"y":{"field":"y","type":"quantitative","scale":{"domain":[2.68,7.97]},"axis":{"values":[3,4,5,6,7],"format":"~g","title":null}},"color":{"field":"s","type":"nominal","scale":{"domain":["b","g","r","k","o","m"],"range":["#0000ff","#00ff00","#ff0000","#000000","#ffb380","#ff00ff"]},"legend":null},"strokeDash":{"field":"s","type":"nominal","scale":{"domain":["b","g","r","k","o","m"],"range":[[1,0],[1,0],[1,0],[4,8],[20,10],[20,10]]},"legend":null}}},{"mark":{"type":"point","opacity":0,"size":0},"encoding":{"x":{"field":"x","type":"quantitative","scale":{"domain":[5,50]},"axis":{"orient":"top","values":[20,40],"title":null}},"y":{"field":"y","type":"quantitative","scale":{"domain":[2.68,7.97]},"axis":{"orient":"right","values":[3,4,5,6,7],"title":null}}}}],"resolve":{"axis":{"x":"independent","y":"independent"}}},
{"title":"Concrete-CS, CC","data":{"name":"d2"},"layer":[{"mark":{"type":"line","clip":true},"encoding":{"x":{"field":"x","type":"quantitative","scale":{"domain":[5,50]},"axis":{"values":[20,40],"title":null}},"y":{"field":"y","type":"quantitative","scale":{"domain":[0.145,0.944]},"axis":{"values":[0.2,0.4,0.6,0.8],"format":"~g","title":null}},"color":{"field":"s","type":"nominal","scale":{"domain":["b","g","r","k","o","m"],"range":["#0000ff","#00ff00","#ff0000","#000000","#ffb380","#ff00ff"]},"legend":null},"strokeDash":{"field":"s","type":"nominal","scale":{"domain":["b","g","r","k","o","m"],"range":[[1,0],[1,0],[1,0],[4,8],[20,10],[20,10]]},"legend":null}}},{"mark":{"type":"point","opacity":0,"size":0},"encoding":{"x":{"field":"x","type":"quantitative","scale":{"domain":[5,50]},"axis":{"orient":"top","values":[20,40],"title":null}},"y":{"field":"y","type":"quantitative","scale":{"domain":[0.145,0.944]},"axis":{"orient":"right","values":[0.2,0.4,0.6,0.8],"title":null}}}}],"resolve":{"axis":{"x":"independent","y":"independent"}}},
{"title":"Yacht, RMSE","data":{"name":"d3"},"layer":[{"mark":{"type":"line","clip":true},"encoding":{"x":{"field":"x","type":"quantitative","scale":{"domain":[5,50]},"axis":{"values":[20,40],"title":null}},"y":{"field":"y","type":"quantitative","scale":{"domain":[9.58,18.38]},"axis":{"values":[10,12,14,16,18],"format":"~g","title":null}},"color":{"field":"s","type":"nominal","scale":{"domain":["b","g","r","k","o","m"],"range":["#0000ff","#00ff00","#ff0000","#000000","#ffb380","#ff00ff"]},"legend":null},"strokeDash":{"field":"s","type":"nominal","scale":{"domain":["b","g","r","k","o","m"],"range":[[1,0],[1,0],[1,0],[4,8],[20,10],[20,10]]},"legend":null}}},{"mark":{"type":"point","opacity":0,"size":0},"encoding":{"x":{"field":"x","type":"quantitative","scale":{"domain":[5,50]},"axis":{"orient":"top","values":[20,40],"title":null}},"y":{"field":"y","type":"quantitative","scale":{"domain":[9.58,18.38]},"axis":{"orient":"right","values":[10,12,14,16,18],"title":null}}}}],"resolve":{"axis":{"x":"independent","y":"independent"}}},
{"title":"Yacht, CC","data":{"name":"d4"},"layer":[{"mark":{"type":"line","clip":true},"encoding":{"x":{"field":"x","type":"quantitative","scale":{"domain":[5,50]},"axis":{"values":[20,40],"title":null}},"y":{"field":"y","type":"quantitative","scale":{"domain":[0.342,0.818]},"axis":{"values":[0.4,0.6,0.8],"format":"~g","title":null}},"color":{"field":"s","type":"nominal","scale":{"domain":["b","g","r","k","o","m"],"range":["#0000ff","#00ff00","#ff0000","#000000","#ffb380","#ff00ff"]},"legend":null},"strokeDash":{"field":"s","type":"nominal","scale":{"domain":["b","g","r","k","o","m"],"range":[[1,0],[1,0],[1,0],[4,8],[20,10],[20,10]]},"legend":null}}},{"mark":{"type":"point","opacity":0,"size":0},"encoding":{"x":{"field":"x","type":"quantitative","scale":{"domain":[5,50]},"axis":{"orient":"top","values":[20,40],"title":null}},"y":{"field":"y","type":"quantitative","scale":{"domain":[0.342,0.818]},"axis":{"orient":"right","values":[0.4,0.6,0.8],"title":null}}}}],"resolve":{"axis":{"x":"independent","y":"independent"}}},
{"title":"autoMPG, RMSE","data":{"name":"d5"},"layer":[{"mark":{"type":"line","clip":true},"encoding":{"x":{"field":"x","type":"quantitative","scale":{"domain":[5,50]},"axis":{"values":[20,40],"title":null}},"y":{"field":"y","type":"quantitative","scale":{"domain":[3.05,5.32]},"axis":{"values":[3.5,4,4.5,5],"format":"~g","title":null}},"color":{"field":"s","type":"nominal","scale":{"domain":["b","g","r","k","o","m"],"range":["#0000ff","#00ff00","#ff0000","#000000","#ffb380","#ff00ff"]},"legend":null},"strokeDash":{"field":"s","type":"nominal","scale":{"domain":["b","g","r","k","o","m"],"range":[[1,0],[1,0],[1,0],[4,8],[20,10],[20,10]]},"legend":null}}},{"mark":{"type":"point","opacity":0,"size":0},"encoding":{"x":{"field":"x","type":"quantitative","scale":{"domain":[5,50]},"axis":{"orient":"top","values":[20,40],"title":null}},"y":{"field":"y","type":"quantitative","scale":{"domain":[3.05,5.32]},"axis":{"orient":"right","values":[3.5,4,4.5,5],"title":null}}}}],"resolve":{"axis":{"x":"independent","y":"independent"}}},
{"title":"autoMPG, CC","data":{"name":"d6"},"layer":[{"mark":{"type":"line","clip":true},"encoding":{"x":{"field":"x","type":"quantitative","scale":{"domain":[5,50]},"axis":{"values":[20,40],"title":null}},"y":{"field":"y","type":"quantitative","scale":{"domain":[0.8028,0.9234]},"axis":{"values":[0.82,0.84,0.86,0.88,0.9,0.92],"format":"~g","title":null}},"color":{"field":"s","type":"nominal","scale":{"domain":["b","g","r","k","o","m"],"range":["#0000ff","#00ff00","#ff0000","#000000","#ffb380","#ff00ff"]},"legend":null},"strokeDash":{"field":"s","type":"nominal","scale":{"domain":["b","g","r","k","o","m"],"range":[[1,0],[1,0],[1,0],[4,8],[20,10],[20,10]]},"legend":null}}},{"mark":{"type":"point","opacity":0,"size":0},"encoding":{"x":{"field":"x","type":"quantitative","scale":{"domain":[5,50]},"axis":{"orient":"top","values":[20,40],"title":null}},"y":{"field":"y","type":"quantitative","scale":{"domain":[0.8028,0.9234]},"axis":{"orient":"right","values":[0.82,0.84,0.86,0.88,0.9,0.92],"title":null}}}}],"resolve":{"axis":{"x":"independent","y":"independent"}}},
{"title":"NO2, RMSE","data":{"name":"d7"},"layer":[{"mark":{"type":"line","clip":true},"encoding":{"x":{"field":"x","type":"quantitative","scale":{"domain":[5,50]},"axis":{"values":[20,40],"title":null}},"y":{"field":"y","type":"quantitative","scale":{"domain":[0.578,0.868]},"axis":{"values":[0.6,0.7,0.8],"format":"~g","title":null}},"color":{"field":"s","type":"nominal","scale":{"domain":["b","g","r","k","o","m"],"range":["#0000ff","#00ff00","#ff0000","#000000","#ffb380","#ff00ff"]},"legend":null},"strokeDash":{"field":"s","type":"nominal","scale":{"domain":["b","g","r","k","o","m"],"range":[[1,0],[1,0],[1,0],[4,8],[20,10],[20,10]]},"legend":null}}},{"mark":{"type":"point","opacity":0,"size":0,"clip":true},"encoding":{"x":{"field":"x","type":"quantitative","scale":{"domain":[5,50]},"axis":{"orient":"top","values":[20,40],"title":null}},"y":{"field":"y","type":"quantitative","scale":{"domain":[0.578,0.868]},"axis":{"orient":"right","values":[0.6,0.7,0.8],"title":null}}}}],"resolve":{"axis":{"x":"independent","y":"independent"}}},
{"title":"NO2, CC","data":{"name":"d8"},"layer":[{"mark":{"type":"line","clip":true},"encoding":{"x":{"field":"x","type":"quantitative","scale":{"domain":[5,50]},"axis":{"values":[20,40],"title":null}},"y":{"field":"y","type":"quantitative","scale":{"domain":[0.184,0.661]},"axis":{"values":[0.2,0.4,0.6],"format":"~g","title":null}},"color":{"field":"s","type":"nominal","scale":{"domain":["b","g","r","k","o","m"],"range":["#0000ff","#00ff00","#ff0000","#000000","#ffb380","#ff00ff"]},"legend":null},"strokeDash":{"field":"s","type":"nominal","scale":{"domain":["b","g","r","k","o","m"],"range":[[1,0],[1,0],[1,0],[4,8],[20,10],[20,10]]},"legend":null}}},{"mark":{"type":"point","opacity":0,"size":0},"encoding":{"x":{"field":"x","type":"quantitative","scale":{"domain":[5,50]},"axis":{"orient":"top","values":[20,40],"title":null}},"y":{"field":"y","type":"quantitative","scale":{"domain":[0.184,0.661]},"axis":{"orient":"right","values":[0.2,0.4,0.6],"title":null}}}}],"resolve":{"axis":{"x":"independent","y":"independent"}}},
{"title":"Housing, RMSE","data":{"name":"d9"},"layer":[{"mark":{"type":"line","clip":true},"encoding":{"x":{"field":"x","type":"quantitative","scale":{"domain":[5,50]},"axis":{"values":[20,40],"title":null}},"y":{"field":"y","type":"quantitative","scale":{"domain":[4.48,8.28]},"axis":{"values":[5,6,7,8],"format":"~g","title":null}},"color":{"field":"s","type":"nominal","scale":{"domain":["b","g","r","k","o","m"],"range":["#0000ff","#00ff00","#ff0000","#000000","#ffb380","#ff00ff"]},"legend":null},"strokeDash":{"field":"s","type":"nominal","scale":{"domain":["b","g","r","k","o","m"],"range":[[1,0],[1,0],[1,0],[4,8],[20,10],[20,10]]},"legend":null}}},{"mark":{"type":"point","opacity":0,"size":0},"encoding":{"x":{"field":"x","type":"quantitative","scale":{"domain":[5,50]},"axis":{"orient":"top","values":[20,40],"title":null}},"y":{"field":"y","type":"quantitative","scale":{"domain":[4.48,8.28]},"axis":{"orient":"right","values":[5,6,7,8],"title":null}}}}],"resolve":{"axis":{"x":"independent","y":"independent"}}},
{"title":"Housing, CC","data":{"name":"d10"},"layer":[{"mark":{"type":"line","clip":true},"encoding":{"x":{"field":"x","type":"quantitative","scale":{"domain":[5,50]},"axis":{"values":[20,40],"title":null}},"y":{"field":"y","type":"quantitative","scale":{"domain":[0.558,0.881]},"axis":{"values":[0.6,0.7,0.8],"format":"~g","title":null}},"color":{"field":"s","type":"nominal","scale":{"domain":["b","g","r","k","o","m"],"range":["#0000ff","#00ff00","#ff0000","#000000","#ffb380","#ff00ff"]},"legend":null},"strokeDash":{"field":"s","type":"nominal","scale":{"domain":["b","g","r","k","o","m"],"range":[[1,0],[1,0],[1,0],[4,8],[20,10],[20,10]]},"legend":null}}},{"mark":{"type":"point","opacity":0,"size":0},"encoding":{"x":{"field":"x","type":"quantitative","scale":{"domain":[5,50]},"axis":{"orient":"top","values":[20,40],"title":null}},"y":{"field":"y","type":"quantitative","scale":{"domain":[0.558,0.881]},"axis":{"orient":"right","values":[0.6,0.7,0.8],"title":null}}}}],"resolve":{"axis":{"x":"independent","y":"independent"}}},
{"title":"CPS, RMSE","data":{"name":"d11"},"layer":[{"mark":{"type":"line","clip":true},"encoding":{"x":{"field":"x","type":"quantitative","scale":{"domain":[5,50]},"axis":{"values":[20,40],"title":null}},"y":{"field":"y","type":"quantitative","scale":{"domain":[4.828,5.663]},"axis":{"values":[5,5.2,5.4,5.6],"format":"~g","title":null}},"color":{"field":"s","type":"nominal","scale":{"domain":["b","g","r","k","o","m"],"range":["#0000ff","#00ff00","#ff0000","#000000","#ffb380","#ff00ff"]},"legend":null},"strokeDash":{"field":"s","type":"nominal","scale":{"domain":["b","g","r","k","o","m"],"range":[[1,0],[1,0],[1,0],[4,8],[20,10],[20,10]]},"legend":null}}},{"mark":{"type":"point","opacity":0,"size":0},"encoding":{"x":{"field":"x","type":"quantitative","scale":{"domain":[5,50]},"axis":{"orient":"top","values":[20,40],"title":null}},"y":{"field":"y","type":"quantitative","scale":{"domain":[4.828,5.663]},"axis":{"orient":"right","values":[5,5.2,5.4,5.6],"title":null}}}}],"resolve":{"axis":{"x":"independent","y":"independent"}}},
{"title":"CPS, CC","data":{"name":"d12"},"layer":[{"mark":{"type":"line","clip":true},"encoding":{"x":{"field":"x","type":"quantitative","scale":{"domain":[5,50]},"axis":{"values":[20,40],"title":null}},"y":{"field":"y","type":"quantitative","scale":{"domain":[0.155,0.445]},"axis":{"values":[0.2,0.3,0.4],"format":"~g","title":null}},"color":{"field":"s","type":"nominal","scale":{"domain":["b","g","r","k","o","m"],"range":["#0000ff","#00ff00","#ff0000","#000000","#ffb380","#ff00ff"]},"legend":null},"strokeDash":{"field":"s","type":"nominal","scale":{"domain":["b","g","r","k","o","m"],"range":[[1,0],[1,0],[1,0],[4,8],[20,10],[20,10]]},"legend":null}}},{"mark":{"type":"point","opacity":0,"size":0},"encoding":{"x":{"field":"x","type":"quantitative","scale":{"domain":[5,50]},"axis":{"orient":"top","values":[20,40],"title":null}},"y":{"field":"y","type":"quantitative","scale":{"domain":[0.155,0.445]},"axis":{"orient":"right","values":[0.2,0.3,0.4],"title":null}}}}],"resolve":{"axis":{"x":"independent","y":"independent"}}},
{"title":"EE-Cooling, RMSE","data":{"name":"d13"},"layer":[{"mark":{"type":"line","clip":true},"encoding":{"x":{"field":"x","type":"quantitative","scale":{"domain":[5,50]},"axis":{"values":[20,40],"title":null}},"y":{"field":"y","type":"quantitative","scale":{"domain":[3.32,6.57]},"axis":{"values":[4,5,6],"format":"~g","title":null}},"color":{"field":"s","type":"nominal","scale":{"domain":["b","g","r","k","o","m"],"range":["#0000ff","#00ff00","#ff0000","#000000","#ffb380","#ff00ff"]},"legend":null},"strokeDash":{"field":"s","type":"nominal","scale":{"domain":["b","g","r","k","o","m"],"range":[[1,0],[1,0],[1,0],[4,8],[20,10],[20,10]]},"legend":null}}},{"mark":{"type":"point","opacity":0,"size":0},"encoding":{"x":{"field":"x","type":"quantitative","scale":{"domain":[5,50]},"axis":{"orient":"top","values":[20,40],"title":null}},"y":{"field":"y","type":"quantitative","scale":{"domain":[3.32,6.57]},"axis":{"orient":"right","values":[4,5,6],"title":null}}}}],"resolve":{"axis":{"x":"independent","y":"independent"}}},
{"title":"EE-Cooling, CC","data":{"name":"d14"},"layer":[{"mark":{"type":"line","clip":true},"encoding":{"x":{"field":"x","type":"quantitative","scale":{"domain":[5,50]},"axis":{"values":[20,40],"title":null}},"y":{"field":"y","type":"quantitative","scale":{"domain":[0.797,0.943]},"axis":{"values":[0.8,0.85,0.9],"format":"~g","title":null}},"color":{"field":"s","type":"nominal","scale":{"domain":["b","g","r","k","o","m"],"range":["#0000ff","#00ff00","#ff0000","#000000","#ffb380","#ff00ff"]},"legend":null},"strokeDash":{"field":"s","type":"nominal","scale":{"domain":["b","g","r","k","o","m"],"range":[[1,0],[1,0],[1,0],[4,8],[20,10],[20,10]]},"legend":null}}},{"mark":{"type":"point","opacity":0,"size":0},"encoding":{"x":{"field":"x","type":"quantitative","scale":{"domain":[5,50]},"axis":{"orient":"top","values":[20,40],"title":null}},"y":{"field":"y","type":"quantitative","scale":{"domain":[0.797,0.943]},"axis":{"orient":"right","values":[0.8,0.85,0.9],"title":null}}}}],"resolve":{"axis":{"x":"independent","y":"independent"}}},
{"title":"VAM-Arousal, RMSE","data":{"name":"d15"},"layer":[{"mark":{"type":"line","clip":true},"encoding":{"x":{"field":"x","type":"quantitative","scale":{"domain":[5,50]},"axis":{"values":[20,40],"title":null}},"y":{"field":"y","type":"quantitative","scale":{"domain":[0.228,0.354]},"axis":{"values":[0.25,0.3,0.35],"format":"~g","title":null}},"color":{"field":"s","type":"nominal","scale":{"domain":["b","g","r","k","o","m"],"range":["#0000ff","#00ff00","#ff0000","#000000","#ffb380","#ff00ff"]},"legend":null},"strokeDash":{"field":"s","type":"nominal","scale":{"domain":["b","g","r","k","o","m"],"range":[[1,0],[1,0],[1,0],[4,8],[20,10],[20,10]]},"legend":null}}},{"mark":{"type":"point","opacity":0,"size":0},"encoding":{"x":{"field":"x","type":"quantitative","scale":{"domain":[5,50]},"axis":{"orient":"top","values":[20,40],"title":null}},"y":{"field":"y","type":"quantitative","scale":{"domain":[0.228,0.354]},"axis":{"orient":"right","values":[0.25,0.3,0.35],"title":null}}}}],"resolve":{"axis":{"x":"independent","y":"independent"}}},
{"title":"VAM-Arousal, CC","data":{"name":"d16"},"layer":[{"mark":{"type":"line","clip":true},"encoding":{"x":{"field":"x","type":"quantitative","scale":{"domain":[5,50]},"axis":{"values":[20,40],"title":null}},"y":{"field":"y","type":"quantitative","scale":{"domain":[0.489,0.764]},"axis":{"values":[0.5,0.6,0.7],"format":"~g","title":null}},"color":{"field":"s","type":"nominal","scale":{"domain":["b","g","r","k","o","m"],"range":["#0000ff","#00ff00","#ff0000","#000000","#ffb380","#ff00ff"]},"legend":null},"strokeDash":{"field":"s","type":"nominal","scale":{"domain":["b","g","r","k","o","m"],"range":[[1,0],[1,0],[1,0],[4,8],[20,10],[20,10]]},"legend":null}}},{"mark":{"type":"point","opacity":0,"size":0},"encoding":{"x":{"field":"x","type":"quantitative","scale":{"domain":[5,50]},"axis":{"orient":"top","values":[20,40],"title":null}},"y":{"field":"y","type":"quantitative","scale":{"domain":[0.489,0.764]},"axis":{"orient":"right","values":[0.5,0.6,0.7],"title":null}}}}],"resolve":{"axis":{"x":"independent","y":"independent"}}},
{"title":"Concrete, RMSE","data":{"name":"d17"},"layer":[{"mark":{"type":"line","clip":true},"encoding":{"x":{"field":"x","type":"quantitative","scale":{"domain":[5,50]},"axis":{"values":[20,40],"title":null}},"y":{"field":"y","type":"quantitative","scale":{"domain":[11.34,18.92]},"axis":{"values":[12,14,16,18],"format":"~g","title":null}},"color":{"field":"s","type":"nominal","scale":{"domain":["b","g","r","k","o","m"],"range":["#0000ff","#00ff00","#ff0000","#000000","#ffb380","#ff00ff"]},"legend":null},"strokeDash":{"field":"s","type":"nominal","scale":{"domain":["b","g","r","k","o","m"],"range":[[1,0],[1,0],[1,0],[4,8],[20,10],[20,10]]},"legend":null}}},{"mark":{"type":"point","opacity":0,"size":0},"encoding":{"x":{"field":"x","type":"quantitative","scale":{"domain":[5,50]},"axis":{"orient":"top","values":[20,40],"title":null}},"y":{"field":"y","type":"quantitative","scale":{"domain":[11.34,18.92]},"axis":{"orient":"right","values":[12,14,16,18],"title":null}}}}],"resolve":{"axis":{"x":"independent","y":"independent"}}},
{"title":"Concrete, CC","data":{"name":"d18"},"layer":[{"mark":{"type":"line","clip":true},"encoding":{"x":{"field":"x","type":"quantitative","scale":{"domain":[5,50]},"axis":{"values":[20,40],"title":null}},"y":{"field":"y","type":"quantitative","scale":{"domain":[0.389,0.763]},"axis":{"values":[0.4,0.5,0.6,0.7],"format":"~g","title":null}},"color":{"field":"s","type":"nominal","scale":{"domain":["b","g","r","k","o","m"],"range":["#0000ff","#00ff00","#ff0000","#000000","#ffb380","#ff00ff"]},"legend":null},"strokeDash":{"field":"s","type":"nominal","scale":{"domain":["b","g","r","k","o","m"],"range":[[1,0],[1,0],[1,0],[4,8],[20,10],[20,10]]},"legend":null}}},{"mark":{"type":"point","opacity":0,"size":0},"encoding":{"x":{"field":"x","type":"quantitative","scale":{"domain":[5,50]},"axis":{"orient":"top","values":[20,40],"title":null}},"y":{"field":"y","type":"quantitative","scale":{"domain":[0.389,0.763]},"axis":{"orient":"right","values":[0.4,0.5,0.6,0.7],"title":null}}}}],"resolve":{"axis":{"x":"independent","y":"independent"}}}
]
}
